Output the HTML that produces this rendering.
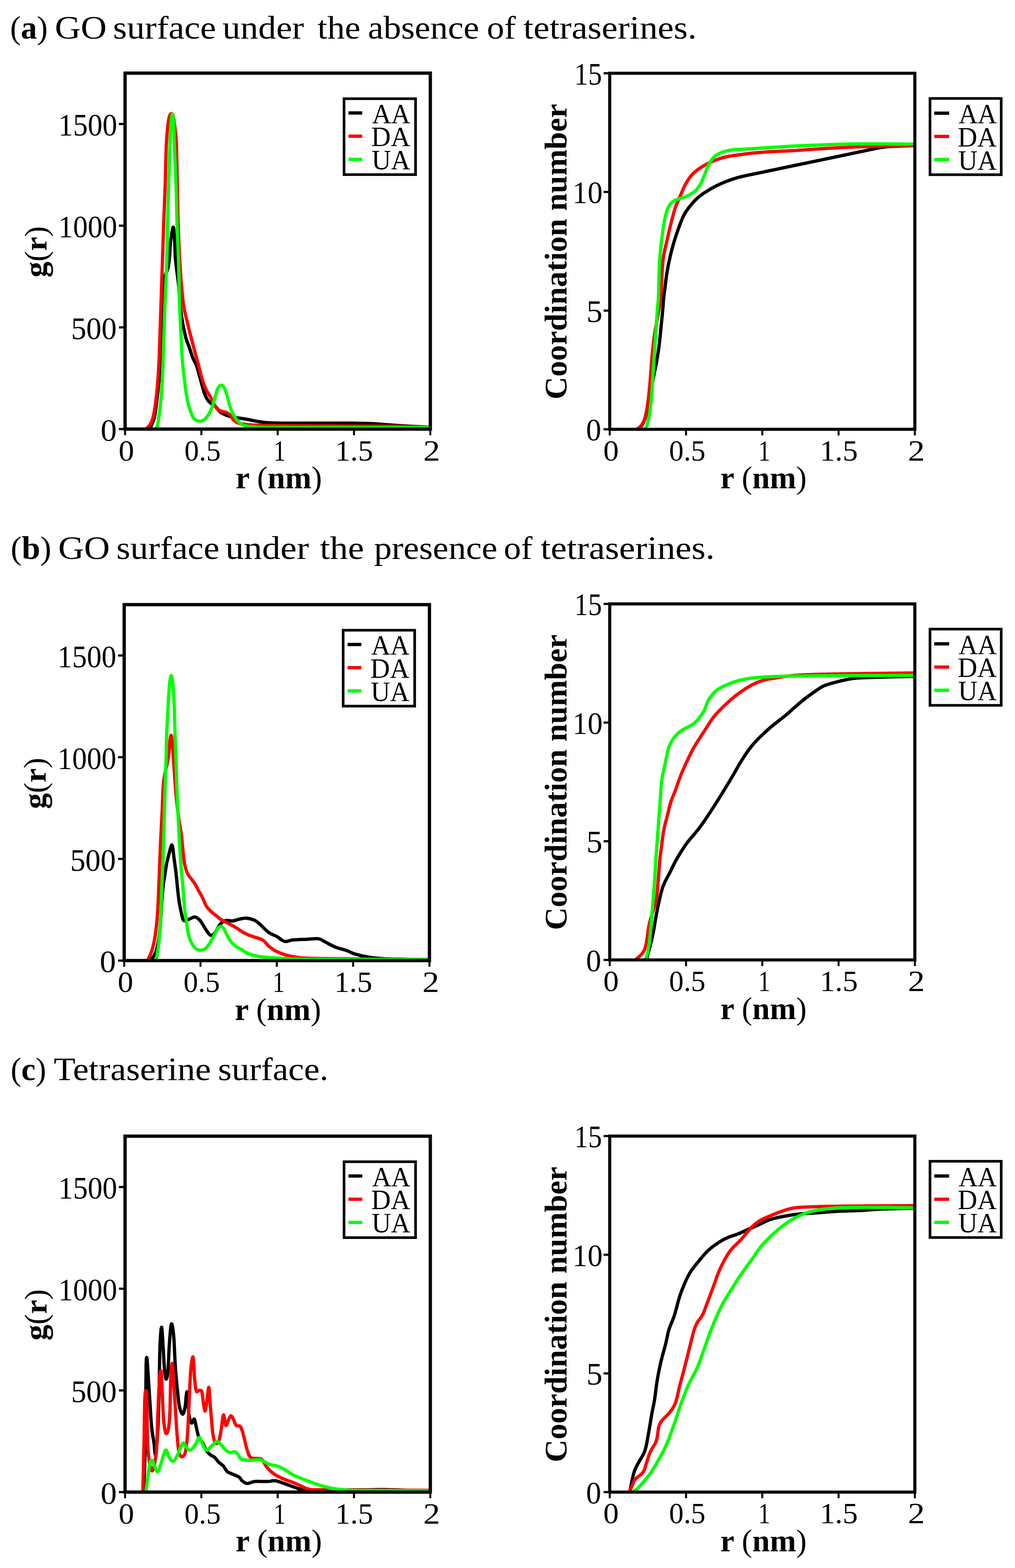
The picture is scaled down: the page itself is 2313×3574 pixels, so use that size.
<!DOCTYPE html><html><head><meta charset="utf-8"><title>RDF and coordination number</title>
<style>html,body{margin:0;padding:0;background:#fff;}body{width:2313px;height:3574px;overflow:hidden;}svg{display:block;}text{font-family:"Liberation Serif", "DejaVu Serif", serif;fill:#000;}</style></head><body>
<svg width="2313" height="3574" viewBox="0 0 2313 3574">
<rect width="2313" height="3574" fill="#fff"/>
<text x="23.02" y="88" font-size="74" textLength="85.88" lengthAdjust="spacingAndGlyphs">(<tspan font-weight="bold">a</tspan>)</text>
<text x="124.98" y="88" font-size="74" textLength="118.21" lengthAdjust="spacingAndGlyphs">GO</text>
<text x="257.5" y="88" font-size="74" textLength="234.78" lengthAdjust="spacingAndGlyphs">surface</text>
<text x="507.1" y="88" font-size="74" textLength="185.65" lengthAdjust="spacingAndGlyphs">under</text>
<text x="723.62" y="88" font-size="74" textLength="97.78" lengthAdjust="spacingAndGlyphs">the</text>
<text x="838.35" y="88" font-size="74" textLength="253.41" lengthAdjust="spacingAndGlyphs">absence</text>
<text x="1109.5" y="88" font-size="74" textLength="65.84" lengthAdjust="spacingAndGlyphs">of</text>
<text x="1192.79" y="88" font-size="74" textLength="395.16" lengthAdjust="spacingAndGlyphs">tetraserines.</text>
<text x="24.23" y="1274" font-size="74" textLength="92.73" lengthAdjust="spacingAndGlyphs">(<tspan font-weight="bold">b</tspan>)</text>
<text x="132.8" y="1274" font-size="74" textLength="117.47" lengthAdjust="spacingAndGlyphs">GO</text>
<text x="265.3" y="1274" font-size="74" textLength="234.68" lengthAdjust="spacingAndGlyphs">surface</text>
<text x="513.67" y="1274" font-size="74" textLength="190.39" lengthAdjust="spacingAndGlyphs">under</text>
<text x="728.99" y="1274" font-size="74" textLength="100.59" lengthAdjust="spacingAndGlyphs">the</text>
<text x="852.41" y="1274" font-size="74" textLength="280.96" lengthAdjust="spacingAndGlyphs">presence</text>
<text x="1148.12" y="1274" font-size="74" textLength="65.31" lengthAdjust="spacingAndGlyphs">of</text>
<text x="1231.98" y="1274" font-size="74" textLength="396.58" lengthAdjust="spacingAndGlyphs">tetraserines.</text>
<text x="24.14" y="2461.5" font-size="74" textLength="81.09" lengthAdjust="spacingAndGlyphs">(<tspan font-weight="bold">c</tspan>)</text>
<text x="122.41" y="2461.5" font-size="74" textLength="358.37" lengthAdjust="spacingAndGlyphs">Tetraserine</text>
<text x="496.75" y="2461.5" font-size="74" textLength="251.61" lengthAdjust="spacingAndGlyphs">surface.</text>
<g transform="translate(0,0)"><clipPath id="cga"><rect x="285" y="166.7" width="695.6" height="811.3"/></clipPath><g clip-path="url(#cga)"><path d="M338 977C339.17 975.83 342.6 974.67 345 970C347.4 965.33 350.17 960 352.4 949C354.63 938 356.8 917.17 358.4 904C360 890.83 361.13 879.88 362 870C362.87 860.12 362.97 856.37 363.6 844.7C364.23 833.03 365.15 811.62 365.8 800C366.45 788.38 366.97 783.33 367.5 775C368.03 766.67 368.42 762.5 369 750C369.58 737.5 370.33 716.67 371 700C371.67 683.33 372.17 661.67 373 650C373.83 638.33 374.33 636.67 376 630C377.67 623.33 381.33 616.67 383 610C384.67 603.33 385.17 598.33 386 590C386.83 581.67 387.17 569.17 388 560C388.83 550.83 389.83 542 391 535C392.17 528 393.83 516.07 395 518C396.17 519.93 397.25 535.35 398 546.6C398.75 557.85 398.83 574.93 399.5 585.5C400.17 596.07 400.75 599.25 402 610C403.25 620.75 405.5 635 407 650C408.5 665 409.5 685.83 411 700C412.5 714.17 414.5 725.83 416 735C417.5 744.17 418.5 748.33 420 755C421.5 761.67 423.07 768.77 425 775C426.93 781.23 429.27 785.77 431.6 792.4C433.93 799.03 436.27 807.83 439 814.8C441.73 821.77 445 825.73 448 834.2C451 842.67 454 855.13 457 865.6C460 876.07 463.27 889.28 466 897C468.73 904.72 470.93 908.18 473.4 911.9C475.87 915.62 477.82 916.82 480.8 919.3C483.78 921.78 487.82 923.55 491.3 926.8C494.78 930.05 497.97 935.68 501.7 938.8C505.43 941.92 509.97 943.77 513.7 945.5C517.43 947.23 519.88 948.08 524.1 949.2C528.32 950.32 533.02 951.2 539 952.2C544.98 953.2 548.17 953.32 560 955.2C571.83 957.08 586.67 961.95 610 963.5C633.33 965.05 667.83 964.33 700 964.5C732.17 964.67 778.5 964.33 803 964.5C827.5 964.67 832.33 964.8 847 965.5C861.67 966.2 876.38 967.68 891 968.7C905.62 969.72 922.53 970.88 934.7 971.6C946.87 972.32 956.45 972.6 964 973C971.55 973.4 977.33 973.83 980 974" fill="none" stroke="#000000" stroke-width="7.5" stroke-linejoin="round" stroke-linecap="round"/><path d="M334 977C334.7 976.23 336.38 974.78 338.2 972.4C340.02 970.02 342.78 967.82 344.9 962.7C347.02 957.58 349.15 950.17 350.9 941.7C352.65 933.23 354.03 923.1 355.4 911.9C356.77 900.7 357.98 888.2 359.1 874.5C360.22 860.8 361.28 845.45 362.1 829.7C362.92 813.95 363.18 803.28 364 780C364.82 756.72 366 720 367 690C368 660 369 630 370 600C371 570 371.92 540 373 510C374.08 480 375.5 450 376.5 420C377.5 390 377.98 352.5 379 330C380.02 307.5 381.35 296 382.6 285C383.85 274 385.1 268.33 386.5 264C387.9 259.67 389.58 258.67 391 259C392.42 259.33 393.67 260 395 266C396.33 272 397.83 284.33 399 295C400.17 305.67 401.17 309.17 402 330C402.83 350.83 403.33 390 404 420C404.67 450 405 480 406 510C407 540 408.08 570 410 600C411.92 630 414.67 667.5 417.5 690C420.33 712.5 423.75 720.83 427 735C430.25 749.17 434.25 764.18 437 775C439.75 785.82 440.92 790.28 443.5 799.9C446.08 809.52 449.52 821.52 452.5 832.7C455.48 843.88 458.42 857.53 461.4 867C464.38 876.47 467.42 883.27 470.4 889.5C473.38 895.73 476.57 899.43 479.3 904.4C482.03 909.37 484.3 914.82 486.8 919.3C489.3 923.78 491.32 928.3 494.3 931.3C497.28 934.3 500.72 935.68 504.7 937.3C508.68 938.92 514.72 939.27 518.2 941C521.68 942.73 523.12 944.83 525.6 947.7C528.08 950.57 530.37 955.48 533.1 958.2C535.83 960.92 538.42 962.62 542 964C545.58 965.38 549.1 965.72 554.6 966.5C560.1 967.28 560.43 968.08 575 968.7C589.57 969.32 589.33 969.72 642 970.2C694.67 970.68 839.83 971.13 891 971.6C942.17 972.07 934.17 972.6 949 973C963.83 973.4 974.83 973.83 980 974" fill="none" stroke="#ff0000" stroke-width="7.5" stroke-linejoin="round" stroke-linecap="round"/><path d="M357 976C357.48 974.02 358.68 971.05 359.9 964.1C361.12 957.15 362.95 945.48 364.3 934.3C365.65 923.12 366.88 911.93 368 897C369.12 882.07 370.12 865.87 371 844.7C371.88 823.53 372.47 795.78 373.3 770C374.13 744.22 374.88 718.33 376 690C377.12 661.67 379 630 380 600C381 570 381.25 540 382 510C382.75 480 383.6 450 384.5 420C385.4 390 386.57 352.5 387.4 330C388.23 307.5 388.6 296.67 389.5 285C390.4 273.33 391.72 260 392.8 260C393.88 260 395.27 273.33 396 285C396.73 296.67 396.37 307.5 397.2 330C398.03 352.5 399.95 390 401 420C402.05 450 402.5 480 403.5 510C404.5 540 406.08 570 407 600C407.92 630 408 660.83 409 690C410 719.17 411.98 754.2 413 775C414.02 795.8 414 800.7 415.1 814.8C416.2 828.9 417.85 844.67 419.6 859.6C421.35 874.53 423.37 891.95 425.6 904.4C427.83 916.85 430.27 926.08 433 934.3C435.73 942.52 438.75 949.47 442 953.7C445.25 957.93 449.02 958.95 452.5 959.7C455.98 960.45 459.42 960.2 462.9 958.2C466.38 956.2 469.92 952.93 473.4 947.7C476.88 942.47 480.82 934.52 483.8 926.8C486.78 919.08 489.05 908.62 491.3 901.4C493.55 894.18 494.93 887.4 497.3 883.5C499.67 879.6 503.02 877.5 505.5 878C507.98 878.5 510.08 882.1 512.2 886.5C514.32 890.9 516.22 897.68 518.2 904.4C520.18 911.12 521.87 920.08 524.1 926.8C526.33 933.52 528.6 939.22 531.6 944.7C534.6 950.18 538.37 955.72 542.1 959.7C545.83 963.68 549.52 966.55 554 968.6C558.48 970.65 561.33 971.1 569 972C576.67 972.9 578.17 973.58 600 974C621.83 974.42 636.67 974.42 700 974.5C763.33 974.58 933.33 974.5 980 974.5" fill="none" stroke="#00ff00" stroke-width="7.5" stroke-linejoin="round" stroke-linecap="round"/></g><line x1="271" y1="978" x2="285" y2="978" stroke="#000" stroke-width="5"/><text x="229.18" y="1004.8" font-size="71" textLength="36.92" lengthAdjust="spacingAndGlyphs">0</text><line x1="271" y1="746.2" x2="285" y2="746.2" stroke="#000" stroke-width="5"/><text x="161.89" y="773" font-size="71" textLength="104.05" lengthAdjust="spacingAndGlyphs">500</text><line x1="271" y1="514.4" x2="285" y2="514.4" stroke="#000" stroke-width="5"/><text x="133.05" y="541.2" font-size="71" textLength="133.78" lengthAdjust="spacingAndGlyphs">1000</text><line x1="271" y1="282.6" x2="285" y2="282.6" stroke="#000" stroke-width="5"/><text x="133.05" y="309.4" font-size="71" textLength="133.78" lengthAdjust="spacingAndGlyphs">1500</text><line x1="285" y1="978" x2="285" y2="992" stroke="#000" stroke-width="4.5"/><text x="270.19" y="1049.5" font-size="67" textLength="35.35" lengthAdjust="spacingAndGlyphs">0</text><line x1="458.9" y1="978" x2="458.9" y2="992" stroke="#000" stroke-width="4.5"/><text x="420.33" y="1049.5" font-size="67" textLength="82.69" lengthAdjust="spacingAndGlyphs">0.5</text><line x1="632.8" y1="978" x2="632.8" y2="992" stroke="#000" stroke-width="4.5"/><text x="623.62" y="1049.5" font-size="67" textLength="27.22" lengthAdjust="spacingAndGlyphs">1</text><line x1="806.7" y1="978" x2="806.7" y2="992" stroke="#000" stroke-width="4.5"/><text x="763.81" y="1049.5" font-size="67" textLength="86.43" lengthAdjust="spacingAndGlyphs">1.5</text><line x1="980.6" y1="978" x2="980.6" y2="992" stroke="#000" stroke-width="4.5"/><text x="964.56" y="1049.5" font-size="67" textLength="38.46" lengthAdjust="spacingAndGlyphs">2</text><rect x="285" y="166.7" width="695.6" height="811.3" fill="none" stroke="#000" stroke-width="7.5"/><rect x="784" y="225" width="163" height="173" fill="#fff" stroke="#000" stroke-width="6"/><line x1="794" y1="257.5" x2="825.5" y2="257.5" stroke="#000000" stroke-width="7.5"/><text x="848" y="280.5" font-size="63" textLength="87" lengthAdjust="spacingAndGlyphs">AA</text><line x1="794" y1="310.4" x2="825.5" y2="310.4" stroke="#ff0000" stroke-width="7.5"/><text x="846.04" y="333.4" font-size="63" textLength="88.96" lengthAdjust="spacingAndGlyphs">DA</text><line x1="794" y1="363.3" x2="825.5" y2="363.3" stroke="#00ff00" stroke-width="7.5"/><text x="847.03" y="386.3" font-size="63" textLength="87.97" lengthAdjust="spacingAndGlyphs">UA</text><text transform="translate(106,0) rotate(-90)" x="-632.52" y="0" font-size="72" font-weight="bold" textLength="116.88" lengthAdjust="spacingAndGlyphs">g<tspan font-weight="normal">(</tspan>r<tspan font-weight="normal">)</tspan></text><text x="536.97" y="1113" font-size="71" font-weight="bold" textLength="196.81" lengthAdjust="spacingAndGlyphs">r <tspan font-weight="normal">(</tspan>nm<tspan font-weight="normal">)</tspan></text></g>
<g transform="translate(0,0)"><clipPath id="cca"><rect x="1389.5" y="167" width="695.3" height="811.5"/></clipPath><g clip-path="url(#cca)"><path d="M1452 980 L1453.61 978.85 L1455.19 977.66 L1456.71 976.43 L1458.17 975.13 L1459.55 973.74 L1460.83 972.27 L1462.01 970.71 L1463.1 969.08 L1464.12 967.38 L1465.06 965.64 L1465.94 963.86 L1466.77 962.05 L1467.55 960.21 L1468.3 958.36 L1469.01 956.49 L1469.69 954.61 L1470.35 952.72 L1470.98 950.82 L1471.58 948.91 L1472.15 946.99 L1472.7 945.07 L1473.23 943.14 L1473.74 941.21 L1474.23 939.26 L1474.7 937.32 L1475.16 935.37 L1475.61 933.42 L1476.04 931.46 L1476.46 929.51 L1476.87 927.55 L1477.28 925.59 L1477.68 923.62 L1478.08 921.66 L1478.47 919.7 L1478.86 917.73 L1479.25 915.77 L1479.63 913.8 L1480.01 911.84 L1480.39 909.87 L1480.76 907.9 L1481.12 905.93 L1481.48 903.96 L1481.84 901.99 L1482.19 900.02 L1482.54 898.05 L1482.89 896.08 L1483.23 894.1 L1483.57 892.13 L1483.91 890.15 L1484.24 888.18 L1484.58 886.21 L1484.91 884.23 L1485.25 882.26 L1485.58 880.28 L1485.92 878.31 L1486.26 876.33 L1486.6 874.36 L1486.94 872.39 L1487.29 870.42 L1487.63 868.44 L1487.98 866.47 L1488.33 864.5 L1488.68 862.53 L1489.04 860.56 L1489.4 858.59 L1489.77 856.62 L1490.15 854.65 L1490.54 852.69 L1490.94 850.73 L1491.35 848.77 L1491.77 846.81 L1492.2 844.85 L1492.64 842.9 L1493.07 840.95 L1493.51 838.99 L1493.94 837.04 L1494.35 835.08 L1494.75 833.12 L1495.14 831.15 L1495.51 829.19 L1495.88 827.22 L1496.22 825.24 L1496.56 823.27 L1496.9 821.3 L1497.22 819.32 L1497.54 817.34 L1497.86 815.37 L1498.18 813.39 L1498.49 811.41 L1498.81 809.43 L1499.12 807.46 L1499.43 805.48 L1499.74 803.5 L1500.04 801.52 L1500.34 799.54 L1500.64 797.56 L1500.93 795.58 L1501.21 793.59 L1501.48 791.61 L1501.75 789.63 L1502 787.64 L1502.25 785.65 L1502.49 783.66 L1502.73 781.68 L1502.95 779.69 L1503.17 777.7 L1503.39 775.7 L1503.6 773.71 L1503.8 771.72 L1504.01 769.73 L1504.21 767.74 L1504.41 765.74 L1504.6 763.75 L1504.8 761.76 L1504.99 759.76 L1505.18 757.77 L1505.38 755.78 L1505.57 753.78 L1505.76 751.79 L1505.96 749.8 L1506.15 747.8 L1506.35 745.81 L1506.55 743.82 L1506.74 741.83 L1506.94 739.83 L1507.14 737.84 L1507.34 735.85 L1507.54 733.86 L1507.74 731.86 L1507.94 729.87 L1508.15 727.88 L1508.35 725.88 L1508.55 723.89 L1508.75 721.9 L1508.94 719.91 L1509.14 717.91 L1509.34 715.92 L1509.53 713.93 L1509.72 711.93 L1509.91 709.94 L1510.1 707.95 L1510.28 705.95 L1510.45 703.96 L1510.62 701.96 L1510.78 699.97 L1510.93 697.97 L1511.07 695.97 L1511.2 693.97 L1511.33 691.98 L1511.46 689.98 L1511.59 687.98 L1511.73 685.98 L1511.88 683.99 L1512.05 681.99 L1512.24 680 L1512.45 678.01 L1512.68 676.02 L1512.93 674.03 L1513.19 672.05 L1513.46 670.07 L1513.73 668.08 L1514.01 666.1 L1514.29 664.12 L1514.56 662.13 L1514.82 660.15 L1515.08 658.16 L1515.32 656.17 L1515.56 654.19 L1515.8 652.2 L1516.03 650.21 L1516.26 648.22 L1516.49 646.23 L1516.72 644.24 L1516.95 642.25 L1517.19 640.26 L1517.44 638.27 L1517.69 636.29 L1517.95 634.3 L1518.22 632.32 L1518.5 630.34 L1518.79 628.36 L1519.1 626.38 L1519.41 624.4 L1519.73 622.42 L1520.06 620.45 L1520.4 618.47 L1520.75 616.5 L1521.1 614.53 L1521.46 612.56 L1521.83 610.59 L1522.2 608.62 L1522.57 606.66 L1522.96 604.69 L1523.34 602.73 L1523.73 600.76 L1524.13 598.8 L1524.53 596.84 L1524.94 594.88 L1525.35 592.92 L1525.77 590.96 L1526.2 589 L1526.63 587.05 L1527.07 585.09 L1527.51 583.14 L1527.97 581.19 L1528.43 579.24 L1528.9 577.29 L1529.38 575.35 L1529.86 573.41 L1530.36 571.47 L1530.86 569.53 L1531.38 567.59 L1531.9 565.66 L1532.43 563.73 L1532.97 561.8 L1533.51 559.87 L1534.07 557.95 L1534.63 556.03 L1535.19 554.11 L1535.77 552.19 L1536.34 550.27 L1536.93 548.36 L1537.52 546.44 L1538.12 544.53 L1538.72 542.62 L1539.33 540.71 L1539.94 538.81 L1540.57 536.9 L1541.2 535 L1541.83 533.1 L1542.48 531.21 L1543.12 529.31 L1543.78 527.42 L1544.44 525.53 L1545.11 523.64 L1545.78 521.76 L1546.46 519.87 L1547.14 517.99 L1547.83 516.11 L1548.52 514.23 L1549.21 512.35 L1549.92 510.48 L1550.62 508.6 L1551.34 506.73 L1552.06 504.86 L1552.79 503 L1553.54 501.14 L1554.3 499.3 L1555.09 497.46 L1555.91 495.63 L1556.76 493.82 L1557.65 492.03 L1558.57 490.26 L1559.52 488.5 L1560.51 486.77 L1561.54 485.05 L1562.59 483.35 L1563.68 481.68 L1564.8 480.02 L1565.94 478.38 L1567.1 476.75 L1568.29 475.14 L1569.5 473.54 L1570.72 471.96 L1571.96 470.39 L1573.22 468.83 L1574.49 467.28 L1575.77 465.74 L1577.07 464.22 L1578.38 462.71 L1579.71 461.21 L1581.05 459.73 L1582.42 458.26 L1583.8 456.82 L1585.2 455.4 L1586.63 454 L1588.08 452.62 L1589.56 451.27 L1591.06 449.95 L1592.58 448.66 L1594.13 447.39 L1595.7 446.16 L1597.29 444.94 L1598.9 443.76 L1600.53 442.6 L1602.18 441.46 L1603.83 440.33 L1605.5 439.23 L1607.18 438.14 L1608.87 437.06 L1610.56 435.99 L1612.26 434.94 L1613.97 433.9 L1615.69 432.86 L1617.41 431.84 L1619.14 430.83 L1620.87 429.83 L1622.61 428.84 L1624.36 427.87 L1626.12 426.9 L1627.88 425.96 L1629.65 425.02 L1631.43 424.11 L1633.22 423.2 L1635.01 422.32 L1636.82 421.45 L1638.63 420.6 L1640.45 419.76 L1642.28 418.95 L1644.11 418.14 L1645.95 417.35 L1647.8 416.58 L1649.65 415.82 L1651.51 415.07 L1653.37 414.33 L1655.23 413.61 L1657.1 412.89 L1658.98 412.18 L1660.85 411.49 L1662.73 410.8 L1664.62 410.12 L1666.51 409.45 L1668.4 408.8 L1670.29 408.16 L1672.19 407.53 L1674.1 406.92 L1676.01 406.32 L1677.93 405.75 L1679.85 405.19 L1681.78 404.66 L1683.71 404.14 L1685.65 403.63 L1687.59 403.15 L1689.54 402.67 L1691.49 402.21 L1693.44 401.75 L1695.39 401.31 L1697.34 400.88 L1699.3 400.45 L1701.26 400.03 L1703.22 399.61 L1705.18 399.2 L1707.14 398.8 L1709.1 398.39 L1711.06 397.99 L1713.02 397.59 L1714.99 397.19 L1716.95 396.79 L1718.91 396.39 L1720.87 395.99 L1722.84 395.59 L1724.8 395.19 L1726.76 394.79 L1728.72 394.38 L1730.68 393.97 L1732.64 393.57 L1734.6 393.16 L1736.56 392.75 L1738.52 392.34 L1740.48 391.92 L1742.44 391.51 L1744.4 391.1 L1746.36 390.69 L1748.32 390.27 L1750.28 389.86 L1752.24 389.45 L1754.2 389.03 L1756.16 388.62 L1758.12 388.21 L1760.08 387.79 L1762.04 387.38 L1764 386.97 L1765.96 386.56 L1767.92 386.14 L1769.88 385.73 L1771.84 385.32 L1773.8 384.9 L1775.76 384.49 L1777.72 384.08 L1779.68 383.67 L1781.64 383.26 L1783.6 382.84 L1785.56 382.43 L1787.52 382.02 L1789.48 381.61 L1791.44 381.2 L1793.4 380.79 L1795.36 380.38 L1797.32 379.97 L1799.28 379.56 L1801.24 379.15 L1803.2 378.74 L1805.16 378.33 L1807.12 377.93 L1809.08 377.52 L1811.04 377.11 L1813 376.7 L1814.96 376.29 L1816.92 375.88 L1818.88 375.48 L1820.84 375.07 L1822.8 374.66 L1824.76 374.25 L1826.72 373.84 L1828.68 373.44 L1830.65 373.03 L1832.61 372.62 L1834.57 372.21 L1836.53 371.8 L1838.49 371.4 L1840.45 370.99 L1842.41 370.58 L1844.37 370.17 L1846.33 369.76 L1848.29 369.36 L1850.25 368.95 L1852.21 368.54 L1854.17 368.13 L1856.13 367.72 L1858.09 367.31 L1860.06 366.91 L1862.02 366.5 L1863.98 366.09 L1865.94 365.68 L1867.9 365.27 L1869.86 364.87 L1871.82 364.46 L1873.78 364.05 L1875.74 363.64 L1877.7 363.23 L1879.66 362.83 L1881.62 362.42 L1883.58 362.01 L1885.54 361.6 L1887.5 361.19 L1889.46 360.78 L1891.43 360.38 L1893.39 359.97 L1895.35 359.56 L1897.31 359.15 L1899.27 358.74 L1901.23 358.33 L1903.19 357.92 L1905.15 357.51 L1907.11 357.1 L1909.07 356.69 L1911.03 356.28 L1912.99 355.87 L1914.95 355.46 L1916.91 355.05 L1918.87 354.64 L1920.83 354.22 L1922.79 353.81 L1924.75 353.4 L1926.71 352.98 L1928.67 352.57 L1930.63 352.16 L1932.59 351.74 L1934.54 351.33 L1936.5 350.91 L1938.46 350.5 L1940.42 350.09 L1942.38 349.68 L1944.34 349.26 L1946.3 348.85 L1948.26 348.44 L1950.22 348.03 L1952.18 347.62 L1954.14 347.21 L1956.1 346.81 L1958.06 346.4 L1960.03 345.99 L1961.98 345.57 L1963.94 345.16 L1965.9 344.74 L1967.86 344.33 L1969.82 343.91 L1971.78 343.49 L1973.74 343.06 L1975.69 342.64 L1977.65 342.22 L1979.61 341.8 L1981.57 341.37 L1983.52 340.95 L1985.48 340.54 L1987.44 340.12 L1989.4 339.71 L1991.36 339.31 L1993.33 338.91 L1995.29 338.51 L1997.25 338.13 L1999.22 337.75 L2001.19 337.38 L2003.16 337.03 L2005.13 336.68 L2007.11 336.35 L2009.08 336.04 L2011.06 335.74 L2013.04 335.46 L2015.03 335.2 L2017.02 334.96 L2019.01 334.74 L2021 334.54 L2022.99 334.36 L2024.99 334.19 L2026.98 334.05 L2028.98 333.92 L2030.98 333.8 L2032.98 333.7 L2034.98 333.61 L2036.98 333.52 L2038.98 333.44 L2040.98 333.36 L2042.98 333.28 L2044.98 333.2 L2046.98 333.11 L2048.98 333.03 L2050.99 332.94 L2052.99 332.85 L2054.99 332.75 L2056.99 332.66 L2058.99 332.57 L2060.99 332.48 L2062.99 332.39 L2064.99 332.3 L2066.99 332.22 L2068.99 332.14 L2070.99 332.05 L2072.99 331.97 L2074.99 331.89 L2077 331.82 L2079 331.74 L2081 331.66 L2083 331.58 L2085 331.5" fill="none" stroke="#000000" stroke-width="7.5" stroke-linejoin="round" stroke-linecap="round"/><path d="M1445 980 L1446.87 979.43 L1448.71 978.82 L1450.51 978.12 L1452.26 977.31 L1453.94 976.37 L1455.54 975.29 L1457.06 974.09 L1458.5 972.78 L1459.85 971.37 L1461.13 969.88 L1462.32 968.32 L1463.43 966.69 L1464.47 965 L1465.42 963.27 L1466.3 961.49 L1467.11 959.68 L1467.85 957.84 L1468.53 955.97 L1469.17 954.08 L1469.75 952.18 L1470.3 950.26 L1470.81 948.33 L1471.29 946.39 L1471.75 944.44 L1472.18 942.49 L1472.59 940.53 L1472.98 938.57 L1473.35 936.61 L1473.71 934.64 L1474.05 932.67 L1474.38 930.7 L1474.7 928.73 L1475.01 926.75 L1475.31 924.77 L1475.6 922.79 L1475.89 920.81 L1476.17 918.83 L1476.44 916.85 L1476.7 914.87 L1476.96 912.89 L1477.22 910.9 L1477.47 908.92 L1477.71 906.93 L1477.95 904.95 L1478.19 902.96 L1478.41 900.98 L1478.63 898.99 L1478.85 897 L1479.06 895.01 L1479.27 893.02 L1479.47 891.03 L1479.67 889.04 L1479.86 887.05 L1480.06 885.06 L1480.24 883.07 L1480.43 881.08 L1480.61 879.09 L1480.79 877.09 L1480.97 875.1 L1481.14 873.11 L1481.32 871.12 L1481.49 869.12 L1481.65 867.13 L1481.82 865.14 L1481.98 863.14 L1482.13 861.15 L1482.29 859.16 L1482.44 857.16 L1482.58 855.17 L1482.73 853.17 L1482.87 851.18 L1483.01 849.18 L1483.15 847.19 L1483.29 845.19 L1483.42 843.19 L1483.56 841.2 L1483.7 839.2 L1483.84 837.21 L1483.99 835.21 L1484.13 833.22 L1484.28 831.22 L1484.43 829.23 L1484.58 827.24 L1484.73 825.24 L1484.89 823.25 L1485.06 821.25 L1485.23 819.26 L1485.4 817.27 L1485.58 815.28 L1485.76 813.29 L1485.95 811.29 L1486.14 809.3 L1486.34 807.31 L1486.54 805.32 L1486.75 803.33 L1486.95 801.34 L1487.16 799.36 L1487.38 797.37 L1487.6 795.38 L1487.82 793.39 L1488.04 791.4 L1488.27 789.42 L1488.5 787.43 L1488.73 785.44 L1488.97 783.46 L1489.2 781.47 L1489.45 779.49 L1489.69 777.5 L1489.94 775.52 L1490.19 773.53 L1490.45 771.55 L1490.71 769.57 L1490.98 767.58 L1491.25 765.6 L1491.52 763.62 L1491.8 761.64 L1492.09 759.66 L1492.38 757.68 L1492.68 755.71 L1492.99 753.73 L1493.31 751.75 L1493.63 749.78 L1493.96 747.81 L1494.3 745.84 L1494.64 743.87 L1494.99 741.9 L1495.35 739.93 L1495.71 737.96 L1496.07 736 L1496.43 734.03 L1496.79 732.06 L1497.16 730.09 L1497.52 728.13 L1497.88 726.16 L1498.24 724.19 L1498.59 722.22 L1498.94 720.26 L1499.29 718.29 L1499.64 716.32 L1499.99 714.35 L1500.34 712.38 L1500.68 710.41 L1501.02 708.44 L1501.36 706.47 L1501.7 704.49 L1502.03 702.52 L1502.36 700.55 L1502.68 698.57 L1502.99 696.6 L1503.29 694.62 L1503.58 692.64 L1503.86 690.66 L1504.13 688.68 L1504.4 686.7 L1504.65 684.72 L1504.9 682.73 L1505.13 680.74 L1505.35 678.76 L1505.57 676.77 L1505.77 674.78 L1505.96 672.79 L1506.14 670.8 L1506.31 668.8 L1506.47 666.81 L1506.62 664.82 L1506.77 662.82 L1506.9 660.83 L1507.03 658.83 L1507.15 656.84 L1507.27 654.84 L1507.38 652.84 L1507.48 650.84 L1507.58 648.85 L1507.67 646.85 L1507.76 644.85 L1507.84 642.85 L1507.93 640.85 L1508.01 638.86 L1508.09 636.86 L1508.17 634.86 L1508.25 632.86 L1508.34 630.86 L1508.42 628.86 L1508.51 626.87 L1508.6 624.87 L1508.69 622.87 L1508.78 620.87 L1508.88 618.87 L1508.98 616.88 L1509.09 614.88 L1509.21 612.88 L1509.33 610.89 L1509.46 608.89 L1509.59 606.9 L1509.74 604.9 L1509.9 602.91 L1510.07 600.92 L1510.25 598.92 L1510.45 596.93 L1510.67 594.95 L1510.9 592.96 L1511.15 590.98 L1511.42 589 L1511.71 587.02 L1512.02 585.04 L1512.35 583.07 L1512.69 581.1 L1513.05 579.14 L1513.43 577.17 L1513.82 575.21 L1514.23 573.25 L1514.65 571.3 L1515.08 569.35 L1515.52 567.4 L1515.97 565.45 L1516.42 563.5 L1516.87 561.55 L1517.32 559.6 L1517.77 557.65 L1518.22 555.7 L1518.67 553.75 L1519.11 551.8 L1519.55 549.85 L1519.98 547.9 L1520.42 545.95 L1520.86 544 L1521.29 542.04 L1521.73 540.09 L1522.17 538.14 L1522.61 536.19 L1523.05 534.24 L1523.5 532.29 L1523.95 530.34 L1524.4 528.39 L1524.86 526.45 L1525.32 524.5 L1525.78 522.55 L1526.24 520.61 L1526.71 518.66 L1527.18 516.72 L1527.66 514.78 L1528.13 512.83 L1528.61 510.89 L1529.1 508.95 L1529.59 507.01 L1530.08 505.07 L1530.58 503.14 L1531.07 501.2 L1531.57 499.26 L1532.08 497.33 L1532.59 495.39 L1533.1 493.46 L1533.62 491.53 L1534.14 489.6 L1534.67 487.67 L1535.2 485.74 L1535.75 483.82 L1536.3 481.89 L1536.86 479.98 L1537.43 478.06 L1538.03 476.15 L1538.63 474.25 L1539.27 472.35 L1539.92 470.46 L1540.61 468.59 L1541.33 466.73 L1542.08 464.88 L1542.87 463.05 L1543.68 461.22 L1544.52 459.41 L1545.37 457.6 L1546.22 455.79 L1547.07 453.98 L1547.91 452.17 L1548.73 450.35 L1549.53 448.52 L1550.31 446.68 L1551.07 444.83 L1551.83 442.98 L1552.57 441.12 L1553.32 439.27 L1554.07 437.41 L1554.82 435.56 L1555.59 433.72 L1556.38 431.88 L1557.19 430.05 L1558.02 428.23 L1558.87 426.43 L1559.75 424.63 L1560.65 422.85 L1561.58 421.08 L1562.53 419.32 L1563.5 417.57 L1564.49 415.84 L1565.51 414.12 L1566.55 412.42 L1567.62 410.73 L1568.72 409.06 L1569.84 407.41 L1571 405.79 L1572.19 404.19 L1573.42 402.61 L1574.69 401.07 L1575.99 399.56 L1577.33 398.09 L1578.7 396.64 L1580.11 395.23 L1581.55 393.85 L1583.02 392.51 L1584.52 391.19 L1586.05 389.9 L1587.6 388.65 L1589.18 387.42 L1590.77 386.22 L1592.39 385.05 L1594.03 383.91 L1595.68 382.79 L1597.36 381.69 L1599.04 380.62 L1600.74 379.57 L1602.46 378.54 L1604.18 377.53 L1605.92 376.54 L1607.66 375.57 L1609.42 374.62 L1611.19 373.69 L1612.97 372.78 L1614.76 371.89 L1616.55 371.01 L1618.36 370.15 L1620.17 369.3 L1621.99 368.47 L1623.82 367.66 L1625.65 366.87 L1627.49 366.1 L1629.35 365.35 L1631.21 364.62 L1633.08 363.92 L1634.96 363.25 L1636.85 362.6 L1638.75 361.97 L1640.65 361.37 L1642.57 360.78 L1644.48 360.22 L1646.4 359.67 L1648.33 359.14 L1650.27 358.64 L1652.21 358.15 L1654.15 357.69 L1656.1 357.26 L1658.06 356.84 L1660.02 356.45 L1661.98 356.09 L1663.95 355.74 L1665.92 355.41 L1667.9 355.1 L1669.87 354.8 L1671.85 354.51 L1673.83 354.23 L1675.81 353.96 L1677.8 353.69 L1679.78 353.43 L1681.76 353.17 L1683.75 352.91 L1685.73 352.65 L1687.71 352.39 L1689.69 352.12 L1691.68 351.86 L1693.66 351.59 L1695.64 351.33 L1697.62 351.06 L1699.61 350.8 L1701.59 350.54 L1703.57 350.29 L1705.56 350.04 L1707.54 349.79 L1709.53 349.56 L1711.52 349.33 L1713.5 349.12 L1715.49 348.91 L1717.48 348.71 L1719.47 348.52 L1721.47 348.33 L1723.46 348.15 L1725.45 347.98 L1727.44 347.81 L1729.44 347.64 L1731.43 347.48 L1733.42 347.32 L1735.42 347.17 L1737.41 347.02 L1739.41 346.87 L1741.4 346.73 L1743.4 346.58 L1745.39 346.45 L1747.39 346.31 L1749.38 346.18 L1751.38 346.05 L1753.37 345.92 L1755.37 345.8 L1757.37 345.68 L1759.36 345.56 L1761.36 345.46 L1763.36 345.35 L1765.36 345.25 L1767.35 345.16 L1769.35 345.07 L1771.35 344.99 L1773.35 344.91 L1775.35 344.84 L1777.35 344.76 L1779.35 344.69 L1781.34 344.62 L1783.34 344.54 L1785.34 344.47 L1787.34 344.39 L1789.34 344.31 L1791.34 344.22 L1793.33 344.13 L1795.33 344.03 L1797.33 343.94 L1799.33 343.83 L1801.32 343.72 L1803.32 343.61 L1805.32 343.5 L1807.31 343.38 L1809.31 343.26 L1811.31 343.13 L1813.3 343 L1815.3 342.87 L1817.29 342.74 L1819.29 342.61 L1821.29 342.48 L1823.28 342.34 L1825.28 342.2 L1827.27 342.06 L1829.27 341.93 L1831.26 341.79 L1833.26 341.65 L1835.25 341.51 L1837.25 341.37 L1839.24 341.23 L1841.24 341.09 L1843.23 340.95 L1845.23 340.81 L1847.22 340.67 L1849.22 340.53 L1851.22 340.39 L1853.21 340.26 L1855.21 340.12 L1857.2 339.98 L1859.2 339.85 L1861.19 339.71 L1863.19 339.58 L1865.18 339.45 L1867.18 339.32 L1869.18 339.19 L1871.17 339.06 L1873.17 338.93 L1875.16 338.81 L1877.16 338.69 L1879.16 338.57 L1881.15 338.45 L1883.15 338.33 L1885.15 338.21 L1887.14 338.1 L1889.14 337.98 L1891.14 337.87 L1893.13 337.76 L1895.13 337.65 L1897.13 337.54 L1899.13 337.43 L1901.12 337.32 L1903.12 337.21 L1905.12 337.1 L1907.11 337 L1909.11 336.89 L1911.11 336.79 L1913.11 336.68 L1915.1 336.58 L1917.1 336.48 L1919.1 336.38 L1921.1 336.27 L1923.09 336.17 L1925.09 336.07 L1927.09 335.98 L1929.09 335.88 L1931.08 335.78 L1933.08 335.69 L1935.08 335.59 L1937.08 335.5 L1939.08 335.4 L1941.07 335.31 L1943.07 335.22 L1945.07 335.13 L1947.07 335.04 L1949.07 334.95 L1951.06 334.87 L1953.06 334.78 L1955.06 334.7 L1957.06 334.62 L1959.06 334.54 L1961.06 334.46 L1963.06 334.39 L1965.05 334.32 L1967.05 334.25 L1969.05 334.19 L1971.05 334.13 L1973.05 334.07 L1975.05 334.02 L1977.05 333.97 L1979.05 333.92 L1981.05 333.87 L1983.05 333.83 L1985.05 333.79 L1987.05 333.75 L1989.05 333.72 L1991.05 333.68 L1993.05 333.64 L1995.05 333.6 L1997.05 333.56 L1999.05 333.52 L2001.05 333.47 L2003.04 333.42 L2005.04 333.37 L2007.04 333.32 L2009.04 333.27 L2011.04 333.21 L2013.04 333.15 L2015.04 333.09 L2017.04 333.02 L2019.04 332.96 L2021.04 332.89 L2023.04 332.83 L2025.04 332.76 L2027.03 332.69 L2029.03 332.62 L2031.03 332.55 L2033.03 332.48 L2035.03 332.41 L2037.03 332.34 L2039.03 332.27 L2041.03 332.2 L2043.03 332.13 L2045.02 332.06 L2047.02 331.98 L2049.02 331.91 L2051.02 331.84 L2053.02 331.77 L2055.02 331.69 L2057.02 331.62 L2059.02 331.55 L2061.01 331.48 L2063.01 331.4 L2065.01 331.33 L2067.01 331.26 L2069.01 331.18 L2071.01 331.11 L2073.01 331.04 L2075.01 330.96 L2077 330.89 L2079 330.82 L2081 330.75 L2083 330.67 L2085 330.6" fill="none" stroke="#ff0000" stroke-width="7.5" stroke-linejoin="round" stroke-linecap="round"/><path d="M1466 980 L1467.41 979.11 L1468.77 978.14 L1470.04 977.04 L1471.17 975.76 L1472.17 974.31 L1473.03 972.71 L1473.79 970.99 L1474.46 969.18 L1475.05 967.31 L1475.59 965.41 L1476.1 963.48 L1476.57 961.54 L1477.02 959.59 L1477.45 957.64 L1477.86 955.68 L1478.26 953.72 L1478.63 951.76 L1479 949.79 L1479.34 947.82 L1479.68 945.85 L1480 943.87 L1480.32 941.9 L1480.62 939.92 L1480.92 937.94 L1481.2 935.96 L1481.48 933.98 L1481.75 932 L1482.01 930.01 L1482.27 928.03 L1482.52 926.04 L1482.77 924.06 L1483.01 922.07 L1483.24 920.09 L1483.47 918.1 L1483.69 916.11 L1483.9 914.12 L1484.11 912.13 L1484.31 910.14 L1484.5 908.15 L1484.69 906.16 L1484.86 904.16 L1485.03 902.17 L1485.19 900.17 L1485.34 898.18 L1485.48 896.18 L1485.62 894.19 L1485.75 892.19 L1485.88 890.19 L1486 888.2 L1486.12 886.2 L1486.24 884.2 L1486.36 882.21 L1486.47 880.21 L1486.59 878.21 L1486.71 876.21 L1486.83 874.22 L1486.95 872.22 L1487.07 870.22 L1487.2 868.22 L1487.32 866.23 L1487.45 864.23 L1487.58 862.23 L1487.71 860.24 L1487.84 858.24 L1487.97 856.24 L1488.09 854.25 L1488.22 852.25 L1488.35 850.25 L1488.48 848.26 L1488.61 846.26 L1488.74 844.26 L1488.87 842.27 L1489 840.27 L1489.13 838.27 L1489.26 836.28 L1489.39 834.28 L1489.52 832.28 L1489.65 830.29 L1489.78 828.29 L1489.91 826.29 L1490.04 824.3 L1490.17 822.3 L1490.31 820.3 L1490.44 818.31 L1490.57 816.31 L1490.71 814.31 L1490.84 812.32 L1490.98 810.32 L1491.11 808.33 L1491.25 806.33 L1491.38 804.33 L1491.51 802.34 L1491.65 800.34 L1491.78 798.34 L1491.92 796.35 L1492.05 794.35 L1492.19 792.35 L1492.32 790.36 L1492.46 788.36 L1492.59 786.37 L1492.73 784.37 L1492.86 782.37 L1493 780.38 L1493.13 778.38 L1493.27 776.38 L1493.4 774.39 L1493.54 772.39 L1493.67 770.39 L1493.8 768.4 L1493.94 766.4 L1494.07 764.41 L1494.21 762.41 L1494.34 760.41 L1494.48 758.42 L1494.61 756.42 L1494.74 754.42 L1494.88 752.43 L1495.01 750.43 L1495.15 748.43 L1495.28 746.44 L1495.41 744.44 L1495.55 742.45 L1495.68 740.45 L1495.81 738.45 L1495.95 736.46 L1496.08 734.46 L1496.21 732.46 L1496.34 730.47 L1496.47 728.47 L1496.6 726.47 L1496.73 724.48 L1496.87 722.48 L1497 720.48 L1497.13 718.49 L1497.26 716.49 L1497.4 714.49 L1497.54 712.5 L1497.68 710.5 L1497.82 708.51 L1497.98 706.51 L1498.14 704.52 L1498.31 702.53 L1498.5 700.53 L1498.69 698.54 L1498.89 696.55 L1499.1 694.57 L1499.3 692.58 L1499.5 690.59 L1499.67 688.6 L1499.84 686.6 L1499.98 684.61 L1500.11 682.61 L1500.22 680.62 L1500.32 678.62 L1500.41 676.62 L1500.49 674.62 L1500.56 672.62 L1500.63 670.62 L1500.7 668.62 L1500.76 666.62 L1500.82 664.62 L1500.88 662.62 L1500.94 660.62 L1501 658.62 L1501.05 656.62 L1501.11 654.62 L1501.16 652.62 L1501.21 650.62 L1501.27 648.62 L1501.32 646.62 L1501.37 644.62 L1501.43 642.62 L1501.48 640.62 L1501.54 638.62 L1501.59 636.62 L1501.65 634.62 L1501.71 632.62 L1501.77 630.62 L1501.83 628.62 L1501.89 626.62 L1501.95 624.62 L1502.02 622.62 L1502.08 620.62 L1502.15 618.62 L1502.22 616.62 L1502.29 614.62 L1502.37 612.62 L1502.45 610.62 L1502.53 608.62 L1502.62 606.62 L1502.71 604.63 L1502.8 602.63 L1502.9 600.63 L1503.01 598.63 L1503.12 596.63 L1503.24 594.64 L1503.36 592.64 L1503.49 590.64 L1503.63 588.65 L1503.77 586.65 L1503.92 584.65 L1504.08 582.66 L1504.24 580.67 L1504.4 578.67 L1504.58 576.68 L1504.75 574.69 L1504.94 572.69 L1505.13 570.7 L1505.32 568.71 L1505.52 566.72 L1505.73 564.73 L1505.94 562.74 L1506.15 560.75 L1506.37 558.76 L1506.59 556.77 L1506.82 554.78 L1507.05 552.8 L1507.28 550.81 L1507.52 548.82 L1507.76 546.84 L1508 544.85 L1508.24 542.86 L1508.49 540.88 L1508.73 538.89 L1508.98 536.91 L1509.23 534.92 L1509.49 532.94 L1509.74 530.95 L1510 528.97 L1510.27 526.99 L1510.54 525 L1510.82 523.02 L1511.1 521.04 L1511.4 519.06 L1511.7 517.09 L1512.02 515.11 L1512.35 513.14 L1512.69 511.17 L1513.04 509.2 L1513.4 507.23 L1513.78 505.27 L1514.18 503.3 L1514.58 501.34 L1515 499.39 L1515.43 497.43 L1515.87 495.48 L1516.32 493.53 L1516.79 491.59 L1517.27 489.65 L1517.76 487.71 L1518.28 485.78 L1518.82 483.86 L1519.4 481.94 L1520 480.04 L1520.65 478.15 L1521.34 476.29 L1522.09 474.45 L1522.91 472.64 L1523.8 470.88 L1524.77 469.16 L1525.83 467.5 L1526.98 465.91 L1528.22 464.39 L1529.55 462.95 L1530.97 461.6 L1532.47 460.33 L1534.04 459.15 L1535.68 458.07 L1537.38 457.09 L1539.13 456.21 L1540.93 455.41 L1542.78 454.7 L1544.65 454.06 L1546.54 453.46 L1548.45 452.9 L1550.37 452.34 L1552.28 451.77 L1554.19 451.19 L1556.1 450.58 L1557.99 449.94 L1559.87 449.28 L1561.74 448.57 L1563.59 447.83 L1565.43 447.05 L1567.24 446.22 L1569.04 445.35 L1570.81 444.44 L1572.56 443.49 L1574.29 442.49 L1575.99 441.45 L1577.66 440.36 L1579.29 439.22 L1580.89 438.03 L1582.44 436.79 L1583.95 435.5 L1585.41 434.15 L1586.82 432.75 L1588.18 431.3 L1589.49 429.81 L1590.74 428.26 L1591.94 426.68 L1593.09 425.05 L1594.18 423.39 L1595.23 421.7 L1596.22 419.97 L1597.16 418.21 L1598.06 416.43 L1598.91 414.63 L1599.73 412.81 L1600.53 410.98 L1601.3 409.13 L1602.05 407.28 L1602.79 405.42 L1603.52 403.56 L1604.25 401.69 L1604.97 399.83 L1605.69 397.96 L1606.4 396.09 L1607.11 394.22 L1607.82 392.35 L1608.54 390.48 L1609.27 388.62 L1610.01 386.77 L1610.78 384.92 L1611.56 383.08 L1612.36 381.25 L1613.19 379.43 L1614.03 377.62 L1614.91 375.82 L1615.8 374.03 L1616.73 372.26 L1617.68 370.51 L1618.67 368.78 L1619.71 367.08 L1620.8 365.41 L1621.94 363.79 L1623.14 362.21 L1624.41 360.7 L1625.75 359.24 L1627.15 357.85 L1628.62 356.53 L1630.16 355.28 L1631.75 354.1 L1633.39 352.99 L1635.08 351.95 L1636.8 350.97 L1638.56 350.04 L1640.35 349.17 L1642.17 348.36 L1644.01 347.6 L1645.88 346.88 L1647.76 346.22 L1649.65 345.61 L1651.57 345.04 L1653.49 344.52 L1655.43 344.04 L1657.38 343.61 L1659.33 343.21 L1661.3 342.84 L1663.27 342.51 L1665.24 342.2 L1667.22 341.92 L1669.2 341.66 L1671.19 341.43 L1673.18 341.23 L1675.17 341.06 L1677.16 340.91 L1679.16 340.78 L1681.15 340.67 L1683.15 340.58 L1685.15 340.49 L1687.15 340.39 L1689.14 340.3 L1691.14 340.2 L1693.14 340.09 L1695.14 339.98 L1697.13 339.87 L1699.13 339.75 L1701.13 339.63 L1703.13 339.51 L1705.12 339.38 L1707.12 339.26 L1709.12 339.14 L1711.11 339.01 L1713.11 338.89 L1715.11 338.76 L1717.11 338.64 L1719.1 338.51 L1721.1 338.39 L1723.1 338.26 L1725.09 338.14 L1727.09 338.01 L1729.09 337.89 L1731.08 337.76 L1733.08 337.64 L1735.08 337.51 L1737.08 337.38 L1739.07 337.26 L1741.07 337.13 L1743.07 337.01 L1745.06 336.88 L1747.06 336.76 L1749.06 336.63 L1751.05 336.5 L1753.05 336.37 L1755.05 336.24 L1757.04 336.11 L1759.04 335.98 L1761.04 335.85 L1763.03 335.71 L1765.03 335.58 L1767.03 335.45 L1769.02 335.31 L1771.02 335.18 L1773.02 335.05 L1775.01 334.92 L1777.01 334.79 L1779.01 334.66 L1781 334.53 L1783 334.4 L1785 334.28 L1786.99 334.16 L1788.99 334.04 L1790.99 333.92 L1792.99 333.8 L1794.98 333.69 L1796.98 333.58 L1798.98 333.47 L1800.98 333.36 L1802.98 333.26 L1804.97 333.15 L1806.97 333.05 L1808.97 332.95 L1810.97 332.85 L1812.97 332.75 L1814.97 332.66 L1816.96 332.56 L1818.96 332.47 L1820.96 332.37 L1822.96 332.28 L1824.96 332.19 L1826.96 332.1 L1828.96 332 L1830.96 331.91 L1832.95 331.83 L1834.95 331.74 L1836.95 331.65 L1838.95 331.56 L1840.95 331.48 L1842.95 331.39 L1844.95 331.31 L1846.95 331.22 L1848.95 331.14 L1850.95 331.06 L1852.95 330.98 L1854.94 330.9 L1856.94 330.82 L1858.94 330.74 L1860.94 330.66 L1862.94 330.58 L1864.94 330.51 L1866.94 330.43 L1868.94 330.36 L1870.94 330.28 L1872.94 330.21 L1874.94 330.14 L1876.94 330.07 L1878.94 330 L1880.94 329.93 L1882.94 329.86 L1884.94 329.79 L1886.94 329.73 L1888.94 329.66 L1890.94 329.59 L1892.94 329.52 L1894.94 329.45 L1896.94 329.38 L1898.94 329.31 L1900.94 329.25 L1902.93 329.18 L1904.93 329.11 L1906.93 329.05 L1908.93 328.99 L1910.93 328.92 L1912.93 328.86 L1914.93 328.8 L1916.93 328.75 L1918.93 328.69 L1920.93 328.64 L1922.93 328.59 L1924.94 328.54 L1926.94 328.49 L1928.94 328.44 L1930.94 328.4 L1932.94 328.36 L1934.94 328.32 L1936.94 328.28 L1938.94 328.25 L1940.94 328.22 L1942.94 328.19 L1944.94 328.16 L1946.94 328.13 L1948.94 328.11 L1950.94 328.09 L1952.94 328.07 L1954.94 328.05 L1956.94 328.03 L1958.95 328.02 L1960.95 328 L1962.95 327.99 L1964.95 327.98 L1966.95 327.97 L1968.95 327.97 L1970.95 327.96 L1972.95 327.96 L1974.95 327.96 L1976.95 327.95 L1978.95 327.95 L1980.96 327.96 L1982.96 327.96 L1984.96 327.96 L1986.96 327.96 L1988.96 327.97 L1990.96 327.97 L1992.96 327.98 L1994.96 327.98 L1996.96 327.99 L1998.96 328 L2000.96 328 L2002.96 328.01 L2004.97 328.02 L2006.97 328.03 L2008.97 328.04 L2010.97 328.05 L2012.97 328.06 L2014.97 328.07 L2016.97 328.08 L2018.97 328.09 L2020.97 328.1 L2022.97 328.11 L2024.97 328.12 L2026.98 328.13 L2028.98 328.14 L2030.98 328.15 L2032.98 328.17 L2034.98 328.18 L2036.98 328.19 L2038.98 328.2 L2040.98 328.22 L2042.98 328.23 L2044.98 328.24 L2046.98 328.26 L2048.98 328.27 L2050.99 328.28 L2052.99 328.3 L2054.99 328.31 L2056.99 328.32 L2058.99 328.34 L2060.99 328.35 L2062.99 328.36 L2064.99 328.38 L2066.99 328.39 L2068.99 328.4 L2070.99 328.42 L2072.99 328.43 L2075 328.44 L2077 328.45 L2079 328.47 L2081 328.48 L2083 328.49 L2085 328.5" fill="none" stroke="#00ff00" stroke-width="7.5" stroke-linejoin="round" stroke-linecap="round"/></g><line x1="1375.5" y1="978.5" x2="1389.5" y2="978.5" stroke="#000" stroke-width="5"/><text x="1335.38" y="1004" font-size="71" textLength="34.55" lengthAdjust="spacingAndGlyphs">0</text><line x1="1375.5" y1="708" x2="1389.5" y2="708" stroke="#000" stroke-width="5"/><text x="1336.28" y="733.5" font-size="71" textLength="36.6" lengthAdjust="spacingAndGlyphs">5</text><line x1="1375.5" y1="437.5" x2="1389.5" y2="437.5" stroke="#000" stroke-width="5"/><text x="1304.6" y="463" font-size="71" textLength="68.6" lengthAdjust="spacingAndGlyphs">10</text><line x1="1375.5" y1="167" x2="1389.5" y2="167" stroke="#000" stroke-width="5"/><text x="1308.68" y="192.5" font-size="71" textLength="62.98" lengthAdjust="spacingAndGlyphs">15</text><line x1="1389.5" y1="978.5" x2="1389.5" y2="992.5" stroke="#000" stroke-width="4.5"/><text x="1374.69" y="1049.5" font-size="67" textLength="35.35" lengthAdjust="spacingAndGlyphs">0</text><line x1="1563.33" y1="978.5" x2="1563.33" y2="992.5" stroke="#000" stroke-width="4.5"/><text x="1524.83" y="1049.5" font-size="67" textLength="82.69" lengthAdjust="spacingAndGlyphs">0.5</text><line x1="1737.15" y1="978.5" x2="1737.15" y2="992.5" stroke="#000" stroke-width="4.5"/><text x="1728.12" y="1049.5" font-size="67" textLength="27.22" lengthAdjust="spacingAndGlyphs">1</text><line x1="1910.97" y1="978.5" x2="1910.97" y2="992.5" stroke="#000" stroke-width="4.5"/><text x="1868.31" y="1049.5" font-size="67" textLength="86.43" lengthAdjust="spacingAndGlyphs">1.5</text><line x1="2084.8" y1="978.5" x2="2084.8" y2="992.5" stroke="#000" stroke-width="4.5"/><text x="2069.06" y="1049.5" font-size="67" textLength="38.46" lengthAdjust="spacingAndGlyphs">2</text><rect x="1389.5" y="167" width="695.3" height="811.5" fill="none" stroke="#000" stroke-width="7"/><rect x="2119.3" y="224.4" width="162.3" height="173.8" fill="#fff" stroke="#000" stroke-width="6"/><line x1="2129" y1="258" x2="2163" y2="258" stroke="#000000" stroke-width="7.5"/><text x="2184.4" y="281" font-size="63" textLength="87" lengthAdjust="spacingAndGlyphs">AA</text><line x1="2129" y1="310.9" x2="2163" y2="310.9" stroke="#ff0000" stroke-width="7.5"/><text x="2182.44" y="333.9" font-size="63" textLength="88.96" lengthAdjust="spacingAndGlyphs">DA</text><line x1="2129" y1="363.8" x2="2163" y2="363.8" stroke="#00ff00" stroke-width="7.5"/><text x="2183.43" y="386.8" font-size="63" textLength="87.97" lengthAdjust="spacingAndGlyphs">UA</text><text transform="translate(1291,0) rotate(-90)" x="-910.5" y="0" font-size="72" font-weight="bold" textLength="673.79" lengthAdjust="spacingAndGlyphs">Coordination number</text><text x="1641.47" y="1113" font-size="71" font-weight="bold" textLength="196.81" lengthAdjust="spacingAndGlyphs">r <tspan font-weight="normal">(</tspan>nm<tspan font-weight="normal">)</tspan></text></g>
<g transform="translate(-2,1211.5)"><clipPath id="cgb"><rect x="285" y="166.7" width="695.6" height="811.3"/></clipPath><g clip-path="url(#cgb)"><path d="M340 978.5C341.17 978 344.17 978.83 347 975.5C349.83 972.17 354.17 966.33 357 958.5C359.83 950.67 362.17 940.17 364 928.5C365.83 916.83 366.83 903.5 368 888.5C369.17 873.5 370.03 851.83 371 838.5C371.97 825.17 372.75 817.42 373.8 808.5C374.85 799.58 375.93 793.83 377.3 785C378.67 776.17 380.23 764.33 382 755.5C383.77 746.67 386.32 738.17 387.9 732C389.48 725.83 390.52 721.42 391.5 718.5C392.48 715.58 393.05 714 393.8 714.5C394.55 715 395.22 716.62 396 721.5C396.78 726.38 397.3 734.2 398.5 743.8C399.7 753.4 401.83 767.33 403.2 779.1C404.57 790.87 405.65 804.5 406.7 814.4C407.75 824.3 408.62 831.98 409.5 838.5C410.38 845.02 410.9 847.72 412 853.5C413.1 859.28 414.65 867.67 416.1 873.2C417.55 878.73 418.2 884.8 420.7 886.7C423.2 888.6 426.95 885.98 431.1 884.6C435.25 883.22 441.45 878.4 445.6 878.4C449.75 878.4 452.88 881.67 456 884.6C459.12 887.53 461.53 891.85 464.3 896C467.07 900.15 469.82 905.52 472.6 909.5C475.38 913.48 478.05 918.68 481 919.9C483.95 921.12 486.5 920.95 490.3 916.8C494.1 912.65 499.47 900.02 503.8 895C508.13 889.98 511.62 887.92 516.3 886.7C520.98 885.48 526.7 888.22 531.9 887.7C537.1 887.18 542.32 884.68 547.5 883.6C552.68 882.52 557.3 880.82 563 881.2C568.7 881.58 576.5 883.57 581.7 885.9C586.9 888.23 588.73 890.52 594.2 895.2C599.67 899.88 608 909.32 614.5 914C621 918.68 627.23 919.93 633.2 923.3C639.17 926.67 644.33 932.9 650.3 934.2C656.27 935.5 660.68 931.88 669 931.1C677.32 930.32 690.27 929.95 700.2 929.5C710.13 929.05 721.33 927.32 728.6 928.4C735.87 929.48 737.47 932.83 743.8 936C750.13 939.17 758.58 944.23 766.6 947.4C774.62 950.57 784.73 952.47 791.9 955C799.07 957.53 801.15 960.07 809.6 962.6C818.05 965.13 830.78 968.3 842.6 970.2C854.42 972.1 865.73 973.17 880.5 974C895.27 974.83 914.62 974.78 931.2 975.2C947.78 975.62 971.87 976.28 980 976.5" fill="none" stroke="#000000" stroke-width="7.5" stroke-linejoin="round" stroke-linecap="round"/><path d="M336 979.5C336.6 978.83 337.62 979.5 339.6 975.5C341.58 971.5 345.53 962.75 347.9 955.5C350.27 948.25 352.23 939.83 353.8 932C355.37 924.17 356.13 918.3 357.3 908.5C358.47 898.7 359.82 886.93 360.8 873.2C361.78 859.47 362.42 843.75 363.2 826.1C363.98 808.45 364.72 786.9 365.5 767.3C366.28 747.7 366.9 729.97 367.9 708.5C368.9 687.03 370.53 659.33 371.5 638.5C372.47 617.67 372.78 597.17 373.7 583.5C374.62 569.83 375.62 564.83 377 556.5C378.38 548.17 380.42 541.5 382 533.5C383.58 525.5 385.33 517.67 386.5 508.5C387.67 499.33 388.17 485.83 389 478.5C389.83 471.17 390.67 465.33 391.5 464.5C392.33 463.67 393.25 467.83 394 473.5C394.75 479.17 395.17 486.83 396 498.5C396.83 510.17 398.08 530 399 543.5C399.92 557 400.5 567 401.5 579.5C402.5 592 403.58 605.33 405 618.5C406.42 631.67 408.33 646.83 410 658.5C411.67 670.17 413.78 679.9 415 688.5C416.22 697.1 416.4 701.32 417.3 710.1C418.2 718.88 419.35 732.55 420.4 741.2C421.45 749.85 422.03 755.42 423.6 762C425.17 768.58 427.22 775.5 429.8 780.7C432.38 785.9 436.33 789.4 439.1 793.2C441.87 797 443.8 799.18 446.4 803.5C449 807.82 451.93 814.1 454.7 819.1C457.47 824.1 460.02 827.6 463 833.5C465.98 839.4 468.92 848.75 472.6 854.5C476.28 860.25 481.28 864.37 485.1 868C488.92 871.63 492.03 873.53 495.5 876.3C498.97 879.07 501.57 881.83 505.9 884.6C510.23 887.37 516.3 890.13 521.5 892.9C526.7 895.67 532.43 898.43 537.1 901.2C541.77 903.97 545.35 906.9 549.5 909.5C553.65 912.1 557.15 914.5 562 916.8C566.85 919.1 572.2 920.92 578.6 923.3C585 925.68 594.42 927.47 600.4 931.1C606.38 934.73 609.57 940.95 614.5 945.1C619.43 949.25 623.52 952.62 630 956C636.48 959.38 645.6 963.05 653.4 965.4C661.2 967.75 665.37 968.8 676.8 970.1C688.23 971.4 671.47 972.3 722 973.2C772.53 974.1 937 975.12 980 975.5" fill="none" stroke="#ff0000" stroke-width="7.5" stroke-linejoin="round" stroke-linecap="round"/><path d="M355 979.5C355.38 979.23 356.53 979.93 357.3 977.9C358.07 975.87 358.62 972.98 359.6 967.3C360.58 961.62 362.02 953.6 363.2 943.8C364.38 934 365.72 922.23 366.7 908.5C367.68 894.77 368.52 875.13 369.1 861.4C369.68 847.67 369.62 841.78 370.2 826.1C370.78 810.42 371.82 786.9 372.6 767.3C373.38 747.7 374.08 734.83 374.9 708.5C375.72 682.17 376.52 642.63 377.5 609.3C378.48 575.97 380.18 530.63 380.8 508.5C381.42 486.37 380.43 495.83 381.2 476.5C381.97 457.17 384.18 414.17 385.4 392.5C386.62 370.83 387.4 357.17 388.5 346.5C389.6 335.83 390.83 329 392 328.5C393.17 328 394.37 332.83 395.5 343.5C396.63 354.17 397.83 370.33 398.8 392.5C399.77 414.67 400.65 457.17 401.3 476.5C401.95 495.83 401.92 486.37 402.7 508.5C403.48 530.63 404.62 575.97 406 609.3C407.38 642.63 409.47 681.32 411 708.5C412.53 735.68 413.97 756.57 415.2 772.4C416.43 788.23 417.35 791.38 418.4 803.5C419.45 815.62 420.77 835.73 421.5 845.1C422.23 854.47 421.9 852.08 422.8 859.7C423.7 867.32 425.52 881.28 426.9 890.8C428.28 900.32 429.18 909 431.1 916.8C433.02 924.6 435.45 931.88 438.4 937.6C441.35 943.32 445.17 948.33 448.8 951.1C452.43 953.87 456.75 954.2 460.2 954.2C463.65 954.2 466.22 953.7 469.5 951.1C472.78 948.5 476.43 943.8 479.9 938.6C483.37 933.4 487.18 925.62 490.3 919.9C493.42 914.18 496 907.58 498.6 904.3C501.2 901.02 503.65 900.02 505.9 900.2C508.15 900.38 509.85 902.12 512.1 905.4C514.35 908.68 516.62 914.88 519.4 919.9C522.18 924.92 525.33 931.17 528.8 935.5C532.27 939.83 536.23 942.95 540.2 945.9C544.17 948.85 548.02 950.47 552.6 953.2C557.18 955.93 561.28 959.75 567.7 962.3C574.12 964.85 582.02 966.95 591.1 968.5C600.18 970.05 611.82 970.82 622.2 971.6C632.58 972.38 640.1 972.63 653.4 973.2C666.7 973.77 647.57 974.53 702 975C756.43 975.47 933.67 975.83 980 976" fill="none" stroke="#00ff00" stroke-width="7.5" stroke-linejoin="round" stroke-linecap="round"/></g><line x1="271" y1="978" x2="285" y2="978" stroke="#000" stroke-width="5"/><text x="229.18" y="1004.8" font-size="71" textLength="36.92" lengthAdjust="spacingAndGlyphs">0</text><line x1="271" y1="746.2" x2="285" y2="746.2" stroke="#000" stroke-width="5"/><text x="161.89" y="773" font-size="71" textLength="104.05" lengthAdjust="spacingAndGlyphs">500</text><line x1="271" y1="514.4" x2="285" y2="514.4" stroke="#000" stroke-width="5"/><text x="133.05" y="541.2" font-size="71" textLength="133.78" lengthAdjust="spacingAndGlyphs">1000</text><line x1="271" y1="282.6" x2="285" y2="282.6" stroke="#000" stroke-width="5"/><text x="133.05" y="309.4" font-size="71" textLength="133.78" lengthAdjust="spacingAndGlyphs">1500</text><line x1="285" y1="978" x2="285" y2="992" stroke="#000" stroke-width="4.5"/><text x="270.19" y="1049.5" font-size="67" textLength="35.35" lengthAdjust="spacingAndGlyphs">0</text><line x1="458.9" y1="978" x2="458.9" y2="992" stroke="#000" stroke-width="4.5"/><text x="420.33" y="1049.5" font-size="67" textLength="82.69" lengthAdjust="spacingAndGlyphs">0.5</text><line x1="632.8" y1="978" x2="632.8" y2="992" stroke="#000" stroke-width="4.5"/><text x="623.62" y="1049.5" font-size="67" textLength="27.22" lengthAdjust="spacingAndGlyphs">1</text><line x1="806.7" y1="978" x2="806.7" y2="992" stroke="#000" stroke-width="4.5"/><text x="763.81" y="1049.5" font-size="67" textLength="86.43" lengthAdjust="spacingAndGlyphs">1.5</text><line x1="980.6" y1="978" x2="980.6" y2="992" stroke="#000" stroke-width="4.5"/><text x="964.56" y="1049.5" font-size="67" textLength="38.46" lengthAdjust="spacingAndGlyphs">2</text><rect x="285" y="166.7" width="695.6" height="811.3" fill="none" stroke="#000" stroke-width="7.5"/><rect x="784" y="225" width="163" height="173" fill="#fff" stroke="#000" stroke-width="6"/><line x1="794" y1="257.5" x2="825.5" y2="257.5" stroke="#000000" stroke-width="7.5"/><text x="848" y="280.5" font-size="63" textLength="87" lengthAdjust="spacingAndGlyphs">AA</text><line x1="794" y1="310.4" x2="825.5" y2="310.4" stroke="#ff0000" stroke-width="7.5"/><text x="846.04" y="333.4" font-size="63" textLength="88.96" lengthAdjust="spacingAndGlyphs">DA</text><line x1="794" y1="363.3" x2="825.5" y2="363.3" stroke="#00ff00" stroke-width="7.5"/><text x="847.03" y="386.3" font-size="63" textLength="87.97" lengthAdjust="spacingAndGlyphs">UA</text><text transform="translate(106,0) rotate(-90)" x="-632.52" y="0" font-size="72" font-weight="bold" textLength="116.88" lengthAdjust="spacingAndGlyphs">g<tspan font-weight="normal">(</tspan>r<tspan font-weight="normal">)</tspan></text><text x="536.97" y="1113" font-size="71" font-weight="bold" textLength="196.81" lengthAdjust="spacingAndGlyphs">r <tspan font-weight="normal">(</tspan>nm<tspan font-weight="normal">)</tspan></text></g>
<g transform="translate(0,1209.5)"><clipPath id="ccb"><rect x="1389.5" y="167" width="695.3" height="811.5"/></clipPath><g clip-path="url(#ccb)"><path d="M1472 982.5 L1472.5 980.56 L1473 978.63 L1473.5 976.69 L1474 974.75 L1474.5 972.81 L1475 970.88 L1475.5 968.94 L1476 967 L1476.5 965.07 L1477.01 963.13 L1477.52 961.2 L1478.03 959.26 L1478.55 957.33 L1479.07 955.4 L1479.59 953.47 L1480.12 951.54 L1480.65 949.61 L1481.19 947.68 L1481.72 945.75 L1482.25 943.82 L1482.77 941.89 L1483.28 939.96 L1483.79 938.02 L1484.28 936.08 L1484.75 934.14 L1485.22 932.19 L1485.67 930.24 L1486.11 928.29 L1486.54 926.34 L1486.96 924.38 L1487.37 922.43 L1487.78 920.47 L1488.17 918.51 L1488.55 916.54 L1488.93 914.58 L1489.3 912.61 L1489.66 910.64 L1490.01 908.67 L1490.35 906.7 L1490.68 904.73 L1491.01 902.76 L1491.34 900.78 L1491.66 898.81 L1491.98 896.83 L1492.3 894.86 L1492.62 892.88 L1492.94 890.91 L1493.27 888.93 L1493.6 886.96 L1493.94 884.99 L1494.28 883.02 L1494.63 881.05 L1494.99 879.08 L1495.35 877.11 L1495.71 875.14 L1496.08 873.18 L1496.46 871.21 L1496.84 869.25 L1497.23 867.29 L1497.62 865.32 L1498.02 863.36 L1498.42 861.41 L1498.83 859.45 L1499.25 857.49 L1499.67 855.54 L1500.1 853.58 L1500.53 851.63 L1500.96 849.67 L1501.39 847.72 L1501.83 845.77 L1502.26 843.81 L1502.69 841.86 L1503.13 839.91 L1503.57 837.95 L1504.01 836 L1504.46 834.05 L1504.91 832.11 L1505.37 830.16 L1505.85 828.22 L1506.33 826.27 L1506.83 824.34 L1507.35 822.41 L1507.88 820.48 L1508.44 818.56 L1509.02 816.65 L1509.62 814.74 L1510.26 812.85 L1510.93 810.97 L1511.63 809.1 L1512.37 807.24 L1513.14 805.4 L1513.95 803.57 L1514.79 801.76 L1515.65 799.96 L1516.54 798.17 L1517.45 796.39 L1518.38 794.62 L1519.32 792.85 L1520.26 791.09 L1521.21 789.33 L1522.16 787.57 L1523.1 785.8 L1524.03 784.03 L1524.96 782.26 L1525.87 780.47 L1526.76 778.69 L1527.65 776.89 L1528.53 775.1 L1529.4 773.3 L1530.27 771.5 L1531.14 769.69 L1532.01 767.89 L1532.88 766.09 L1533.76 764.29 L1534.65 762.5 L1535.55 760.71 L1536.46 758.93 L1537.38 757.16 L1538.31 755.39 L1539.26 753.63 L1540.22 751.87 L1541.2 750.13 L1542.19 748.39 L1543.18 746.66 L1544.19 744.93 L1545.21 743.21 L1546.24 741.49 L1547.27 739.77 L1548.31 738.06 L1549.35 736.36 L1550.4 734.65 L1551.46 732.96 L1552.52 731.26 L1553.59 729.57 L1554.66 727.88 L1555.74 726.2 L1556.83 724.52 L1557.92 722.84 L1559.02 721.17 L1560.13 719.51 L1561.26 717.85 L1562.39 716.21 L1563.55 714.58 L1564.72 712.96 L1565.91 711.35 L1567.13 709.77 L1568.36 708.2 L1569.62 706.64 L1570.9 705.11 L1572.19 703.58 L1573.49 702.06 L1574.8 700.55 L1576.11 699.03 L1577.41 697.52 L1578.71 696 L1580 694.47 L1581.29 692.94 L1582.57 691.4 L1583.84 689.86 L1585.11 688.31 L1586.38 686.76 L1587.64 685.21 L1588.89 683.65 L1590.14 682.09 L1591.38 680.52 L1592.61 678.94 L1593.83 677.35 L1595.04 675.76 L1596.24 674.16 L1597.43 672.55 L1598.61 670.93 L1599.78 669.31 L1600.94 667.68 L1602.09 666.05 L1603.23 664.41 L1604.37 662.76 L1605.51 661.11 L1606.64 659.46 L1607.76 657.81 L1608.88 656.15 L1609.99 654.49 L1611.11 652.82 L1612.22 651.16 L1613.32 649.49 L1614.43 647.82 L1615.53 646.15 L1616.63 644.48 L1617.73 642.81 L1618.82 641.14 L1619.92 639.46 L1621.01 637.78 L1622.1 636.11 L1623.19 634.43 L1624.27 632.75 L1625.36 631.07 L1626.44 629.38 L1627.52 627.7 L1628.59 626.01 L1629.67 624.32 L1630.74 622.63 L1631.81 620.94 L1632.88 619.25 L1633.94 617.56 L1635.01 615.86 L1636.07 614.17 L1637.13 612.47 L1638.19 610.77 L1639.24 609.07 L1640.3 607.37 L1641.35 605.67 L1642.41 603.97 L1643.46 602.27 L1644.51 600.57 L1645.56 598.87 L1646.61 597.16 L1647.66 595.46 L1648.71 593.76 L1649.76 592.05 L1650.8 590.35 L1651.85 588.64 L1652.89 586.93 L1653.94 585.23 L1654.98 583.52 L1656.02 581.81 L1657.06 580.1 L1658.1 578.39 L1659.13 576.68 L1660.17 574.97 L1661.2 573.25 L1662.23 571.54 L1663.26 569.82 L1664.28 568.1 L1665.31 566.38 L1666.33 564.66 L1667.35 562.94 L1668.37 561.22 L1669.38 559.49 L1670.39 557.77 L1671.4 556.04 L1672.4 554.31 L1673.4 552.57 L1674.39 550.84 L1675.38 549.1 L1676.37 547.36 L1677.36 545.62 L1678.34 543.88 L1679.33 542.14 L1680.32 540.4 L1681.31 538.66 L1682.3 536.92 L1683.3 535.19 L1684.3 533.46 L1685.31 531.73 L1686.33 530.01 L1687.35 528.29 L1688.39 526.58 L1689.43 524.87 L1690.48 523.17 L1691.54 521.47 L1692.61 519.78 L1693.69 518.1 L1694.78 516.42 L1695.87 514.74 L1696.97 513.07 L1698.08 511.4 L1699.19 509.74 L1700.32 508.09 L1701.46 506.44 L1702.6 504.8 L1703.76 503.17 L1704.93 501.55 L1706.1 499.93 L1707.3 498.33 L1708.5 496.73 L1709.72 495.15 L1710.96 493.57 L1712.2 492.01 L1713.47 490.46 L1714.74 488.92 L1716.04 487.39 L1717.34 485.88 L1718.66 484.37 L1719.99 482.88 L1721.33 481.4 L1722.69 479.93 L1724.05 478.46 L1725.42 477.01 L1726.81 475.56 L1728.2 474.13 L1729.6 472.7 L1731.02 471.29 L1732.44 469.88 L1733.88 468.49 L1735.32 467.11 L1736.78 465.74 L1738.24 464.37 L1739.71 463.01 L1741.18 461.66 L1742.66 460.31 L1744.13 458.96 L1745.61 457.61 L1747.09 456.26 L1748.57 454.92 L1750.05 453.57 L1751.54 452.23 L1753.03 450.9 L1754.52 449.57 L1756.03 448.26 L1757.55 446.96 L1759.08 445.67 L1760.63 444.4 L1762.18 443.14 L1763.74 441.89 L1765.31 440.65 L1766.89 439.42 L1768.46 438.19 L1770.05 436.96 L1771.63 435.74 L1773.21 434.51 L1774.79 433.29 L1776.37 432.06 L1777.95 430.83 L1779.52 429.6 L1781.1 428.36 L1782.66 427.11 L1784.23 425.87 L1785.78 424.61 L1787.34 423.35 L1788.88 422.08 L1790.42 420.8 L1791.96 419.52 L1793.48 418.22 L1795 416.92 L1796.52 415.62 L1798.02 414.3 L1799.53 412.98 L1801.03 411.66 L1802.52 410.33 L1804.02 409 L1805.51 407.67 L1807 406.33 L1808.49 405 L1809.98 403.66 L1811.47 402.33 L1812.97 401 L1814.47 399.67 L1815.97 398.35 L1817.47 397.03 L1818.98 395.72 L1820.49 394.41 L1822.01 393.11 L1823.54 391.82 L1825.07 390.53 L1826.61 389.26 L1828.16 387.99 L1829.72 386.74 L1831.29 385.49 L1832.86 384.26 L1834.44 383.03 L1836.03 381.81 L1837.62 380.61 L1839.22 379.4 L1840.83 378.21 L1842.44 377.02 L1844.05 375.84 L1845.67 374.67 L1847.29 373.49 L1848.92 372.33 L1850.55 371.17 L1852.18 370.01 L1853.82 368.86 L1855.45 367.71 L1857.09 366.56 L1858.74 365.42 L1860.38 364.28 L1862.03 363.15 L1863.68 362.02 L1865.33 360.9 L1867 359.79 L1868.67 358.7 L1870.36 357.64 L1872.06 356.62 L1873.8 355.65 L1875.56 354.75 L1877.35 353.9 L1879.18 353.12 L1881.03 352.39 L1882.9 351.71 L1884.79 351.07 L1886.69 350.47 L1888.6 349.88 L1890.52 349.31 L1892.44 348.75 L1894.36 348.2 L1896.29 347.66 L1898.21 347.13 L1900.14 346.59 L1902.07 346.07 L1904 345.54 L1905.94 345.02 L1907.87 344.51 L1909.8 344.01 L1911.74 343.52 L1913.69 343.04 L1915.63 342.57 L1917.58 342.12 L1919.53 341.67 L1921.48 341.24 L1923.43 340.8 L1925.39 340.38 L1927.34 339.96 L1929.3 339.55 L1931.26 339.14 L1933.22 338.76 L1935.19 338.39 L1937.16 338.03 L1939.13 337.7 L1941.1 337.39 L1943.08 337.11 L1945.06 336.85 L1947.05 336.62 L1949.04 336.41 L1951.03 336.22 L1953.02 336.06 L1955.02 335.91 L1957.01 335.78 L1959.01 335.67 L1961.01 335.57 L1963 335.48 L1965 335.39 L1967 335.32 L1969 335.24 L1971 335.18 L1973 335.11 L1975 335.05 L1977 334.98 L1979 334.92 L1981 334.85 L1983 334.78 L1985 334.71 L1987 334.64 L1989 334.57 L1991 334.49 L1993 334.42 L1995 334.34 L1996.99 334.27 L1998.99 334.2 L2000.99 334.13 L2002.99 334.06 L2004.99 333.99 L2006.99 333.92 L2008.99 333.86 L2010.99 333.8 L2012.99 333.74 L2014.99 333.68 L2016.99 333.62 L2018.99 333.56 L2020.99 333.51 L2022.99 333.45 L2024.99 333.4 L2026.99 333.35 L2028.99 333.3 L2030.99 333.25 L2032.99 333.2 L2034.99 333.15 L2036.99 333.11 L2038.99 333.06 L2040.99 333.02 L2042.99 332.97 L2044.99 332.93 L2046.99 332.89 L2048.99 332.84 L2050.99 332.8 L2052.99 332.76 L2055 332.72 L2057 332.68 L2059 332.63 L2061 332.59 L2063 332.55 L2065 332.51 L2067 332.47 L2069 332.43 L2071 332.39 L2073 332.35 L2075 332.31 L2077 332.27 L2079 332.22 L2081 332.18 L2083 332.14 L2085 332.1" fill="none" stroke="#000000" stroke-width="7.5" stroke-linejoin="round" stroke-linecap="round"/><path d="M1446 982.5 L1447.15 980.89 L1448.32 979.31 L1449.53 977.77 L1450.8 976.3 L1452.13 974.9 L1453.53 973.56 L1454.97 972.27 L1456.44 971 L1457.91 969.73 L1459.35 968.42 L1460.75 967.05 L1462.09 965.62 L1463.35 964.12 L1464.53 962.55 L1465.62 960.92 L1466.62 959.23 L1467.54 957.48 L1468.36 955.68 L1469.1 953.84 L1469.77 951.98 L1470.37 950.08 L1470.92 948.17 L1471.42 946.24 L1471.89 944.29 L1472.33 942.34 L1472.74 940.39 L1473.14 938.42 L1473.51 936.46 L1473.87 934.49 L1474.2 932.52 L1474.52 930.54 L1474.82 928.57 L1475.11 926.59 L1475.37 924.6 L1475.62 922.62 L1475.87 920.63 L1476.1 918.64 L1476.34 916.66 L1476.58 914.67 L1476.83 912.69 L1477.09 910.7 L1477.37 908.72 L1477.68 906.75 L1478.02 904.78 L1478.38 902.81 L1478.76 900.85 L1479.18 898.89 L1479.62 896.94 L1480.09 895 L1480.58 893.06 L1481.08 891.12 L1481.6 889.19 L1482.14 887.26 L1482.68 885.33 L1483.23 883.41 L1483.79 881.49 L1484.35 879.57 L1484.91 877.65 L1485.48 875.73 L1486.05 873.81 L1486.63 871.89 L1487.21 869.98 L1487.79 868.06 L1488.39 866.15 L1488.99 864.24 L1489.59 862.34 L1490.2 860.43 L1490.81 858.52 L1491.4 856.61 L1491.99 854.7 L1492.55 852.78 L1493.09 850.86 L1493.61 848.92 L1494.09 846.99 L1494.54 845.04 L1494.96 843.08 L1495.35 841.12 L1495.7 839.16 L1496.03 837.18 L1496.33 835.21 L1496.6 833.23 L1496.86 831.24 L1497.09 829.25 L1497.31 827.27 L1497.51 825.28 L1497.71 823.28 L1497.89 821.29 L1498.07 819.3 L1498.24 817.3 L1498.41 815.31 L1498.57 813.31 L1498.74 811.32 L1498.9 809.32 L1499.07 807.33 L1499.23 805.34 L1499.4 803.34 L1499.56 801.35 L1499.73 799.35 L1499.9 797.36 L1500.06 795.36 L1500.22 793.37 L1500.38 791.37 L1500.54 789.38 L1500.7 787.38 L1500.86 785.39 L1501.01 783.39 L1501.16 781.39 L1501.31 779.4 L1501.47 777.4 L1501.62 775.41 L1501.77 773.41 L1501.92 771.42 L1502.07 769.42 L1502.22 767.42 L1502.38 765.43 L1502.53 763.43 L1502.69 761.44 L1502.86 759.44 L1503.02 757.45 L1503.19 755.45 L1503.37 753.46 L1503.56 751.47 L1503.76 749.48 L1503.97 747.49 L1504.19 745.5 L1504.43 743.51 L1504.68 741.53 L1504.94 739.54 L1505.21 737.56 L1505.48 735.58 L1505.75 733.59 L1506.03 731.61 L1506.3 729.63 L1506.56 727.64 L1506.82 725.66 L1507.07 723.67 L1507.32 721.69 L1507.57 719.7 L1507.81 717.72 L1508.06 715.73 L1508.3 713.74 L1508.55 711.76 L1508.79 709.77 L1509.04 707.78 L1509.29 705.8 L1509.55 703.81 L1509.8 701.83 L1510.06 699.84 L1510.33 697.86 L1510.6 695.88 L1510.88 693.9 L1511.17 691.92 L1511.47 689.94 L1511.78 687.96 L1512.1 685.99 L1512.44 684.01 L1512.8 682.04 L1513.17 680.08 L1513.56 678.12 L1513.97 676.16 L1514.4 674.21 L1514.85 672.26 L1515.32 670.31 L1515.8 668.37 L1516.3 666.43 L1516.81 664.5 L1517.32 662.56 L1517.84 660.63 L1518.37 658.7 L1518.89 656.77 L1519.4 654.83 L1519.91 652.9 L1520.42 650.96 L1520.91 649.02 L1521.39 647.08 L1521.87 645.13 L1522.34 643.19 L1522.81 641.24 L1523.27 639.3 L1523.73 637.35 L1524.2 635.4 L1524.67 633.46 L1525.15 631.51 L1525.63 629.57 L1526.13 627.63 L1526.64 625.7 L1527.17 623.77 L1527.73 621.85 L1528.3 619.93 L1528.91 618.03 L1529.54 616.13 L1530.2 614.24 L1530.88 612.37 L1531.59 610.5 L1532.33 608.64 L1533.08 606.78 L1533.84 604.93 L1534.61 603.08 L1535.37 601.24 L1536.13 599.38 L1536.88 597.53 L1537.61 595.67 L1538.33 593.8 L1539.04 591.93 L1539.73 590.05 L1540.41 588.17 L1541.08 586.28 L1541.74 584.39 L1542.39 582.5 L1543.05 580.61 L1543.7 578.72 L1544.35 576.83 L1545.01 574.94 L1545.67 573.05 L1546.35 571.16 L1547.02 569.28 L1547.71 567.4 L1548.41 565.52 L1549.11 563.65 L1549.82 561.78 L1550.54 559.91 L1551.27 558.05 L1552.01 556.19 L1552.75 554.33 L1553.5 552.48 L1554.26 550.62 L1555.03 548.78 L1555.81 546.93 L1556.59 545.09 L1557.39 543.25 L1558.19 541.42 L1559 539.59 L1559.82 537.76 L1560.65 535.94 L1561.48 534.12 L1562.32 532.31 L1563.17 530.49 L1564.02 528.68 L1564.88 526.87 L1565.74 525.07 L1566.6 523.26 L1567.47 521.46 L1568.33 519.65 L1569.2 517.85 L1570.07 516.05 L1570.94 514.24 L1571.81 512.44 L1572.69 510.64 L1573.57 508.84 L1574.45 507.05 L1575.35 505.26 L1576.25 503.47 L1577.16 501.69 L1578.08 499.92 L1579.02 498.15 L1579.98 496.39 L1580.95 494.64 L1581.94 492.91 L1582.95 491.18 L1583.98 489.46 L1585.03 487.76 L1586.09 486.06 L1587.16 484.37 L1588.25 482.69 L1589.34 481.02 L1590.43 479.34 L1591.53 477.67 L1592.63 476 L1593.73 474.32 L1594.82 472.65 L1595.91 470.97 L1597 469.29 L1598.08 467.6 L1599.16 465.92 L1600.24 464.23 L1601.32 462.54 L1602.39 460.86 L1603.47 459.17 L1604.55 457.48 L1605.62 455.79 L1606.7 454.11 L1607.78 452.42 L1608.86 450.74 L1609.94 449.05 L1611.02 447.36 L1612.09 445.68 L1613.17 443.99 L1614.25 442.31 L1615.33 440.62 L1616.4 438.93 L1617.49 437.25 L1618.58 435.57 L1619.68 433.9 L1620.79 432.24 L1621.93 430.6 L1623.09 428.97 L1624.28 427.36 L1625.5 425.78 L1626.74 424.21 L1628 422.66 L1629.29 421.14 L1630.6 419.63 L1631.93 418.13 L1633.28 416.65 L1634.64 415.19 L1636.01 413.73 L1637.39 412.28 L1638.78 410.84 L1640.18 409.41 L1641.58 407.98 L1642.99 406.56 L1644.4 405.14 L1645.82 403.73 L1647.24 402.32 L1648.67 400.91 L1650.1 399.52 L1651.54 398.12 L1652.98 396.74 L1654.43 395.36 L1655.89 393.99 L1657.36 392.63 L1658.83 391.27 L1660.31 389.93 L1661.8 388.59 L1663.3 387.27 L1664.81 385.95 L1666.32 384.64 L1667.84 383.34 L1669.38 382.06 L1670.92 380.78 L1672.47 379.51 L1674.02 378.26 L1675.59 377.01 L1677.16 375.78 L1678.75 374.55 L1680.34 373.34 L1681.93 372.13 L1683.54 370.94 L1685.15 369.75 L1686.78 368.58 L1688.41 367.42 L1690.05 366.27 L1691.69 365.14 L1693.35 364.01 L1695.01 362.9 L1696.68 361.8 L1698.36 360.72 L1700.05 359.65 L1701.75 358.59 L1703.46 357.54 L1705.17 356.51 L1706.9 355.5 L1708.63 354.5 L1710.37 353.51 L1712.12 352.55 L1713.88 351.6 L1715.66 350.67 L1717.44 349.76 L1719.23 348.88 L1721.04 348.02 L1722.86 347.19 L1724.69 346.39 L1726.53 345.62 L1728.39 344.88 L1730.25 344.16 L1732.13 343.48 L1734.02 342.84 L1735.93 342.22 L1737.84 341.64 L1739.76 341.09 L1741.69 340.58 L1743.63 340.09 L1745.58 339.64 L1747.53 339.21 L1749.49 338.81 L1751.45 338.43 L1753.42 338.07 L1755.39 337.73 L1757.37 337.39 L1759.34 337.07 L1761.32 336.75 L1763.29 336.44 L1765.27 336.13 L1767.25 335.81 L1769.22 335.49 L1771.2 335.17 L1773.17 334.85 L1775.15 334.52 L1777.12 334.2 L1779.1 333.87 L1781.07 333.55 L1783.05 333.24 L1785.03 332.93 L1787.01 332.64 L1788.99 332.36 L1790.97 332.09 L1792.96 331.84 L1794.94 331.6 L1796.93 331.38 L1798.92 331.17 L1800.91 330.97 L1802.91 330.78 L1804.9 330.6 L1806.89 330.43 L1808.89 330.26 L1810.88 330.1 L1812.88 329.95 L1814.87 329.81 L1816.87 329.67 L1818.87 329.53 L1820.86 329.4 L1822.86 329.28 L1824.86 329.16 L1826.86 329.05 L1828.86 328.94 L1830.86 328.83 L1832.85 328.73 L1834.85 328.63 L1836.85 328.54 L1838.85 328.45 L1840.85 328.37 L1842.85 328.28 L1844.85 328.2 L1846.85 328.13 L1848.85 328.05 L1850.85 327.98 L1852.85 327.92 L1854.85 327.85 L1856.85 327.79 L1858.85 327.73 L1860.86 327.67 L1862.86 327.61 L1864.86 327.56 L1866.86 327.5 L1868.86 327.45 L1870.86 327.41 L1872.86 327.36 L1874.86 327.31 L1876.86 327.27 L1878.86 327.23 L1880.86 327.19 L1882.87 327.14 L1884.87 327.11 L1886.87 327.07 L1888.87 327.03 L1890.87 326.99 L1892.87 326.96 L1894.87 326.92 L1896.87 326.89 L1898.88 326.86 L1900.88 326.82 L1902.88 326.79 L1904.88 326.76 L1906.88 326.72 L1908.88 326.69 L1910.88 326.66 L1912.88 326.63 L1914.89 326.6 L1916.89 326.56 L1918.89 326.53 L1920.89 326.5 L1922.89 326.47 L1924.89 326.44 L1926.89 326.41 L1928.89 326.38 L1930.9 326.35 L1932.9 326.31 L1934.9 326.28 L1936.9 326.25 L1938.9 326.22 L1940.9 326.19 L1942.9 326.16 L1944.9 326.13 L1946.91 326.1 L1948.91 326.07 L1950.91 326.05 L1952.91 326.02 L1954.91 325.99 L1956.91 325.96 L1958.91 325.93 L1960.92 325.91 L1962.92 325.88 L1964.92 325.85 L1966.92 325.82 L1968.92 325.79 L1970.92 325.77 L1972.92 325.74 L1974.92 325.71 L1976.93 325.69 L1978.93 325.66 L1980.93 325.63 L1982.93 325.61 L1984.93 325.58 L1986.93 325.55 L1988.93 325.53 L1990.94 325.5 L1992.94 325.47 L1994.94 325.45 L1996.94 325.42 L1998.94 325.4 L2000.94 325.37 L2002.94 325.34 L2004.95 325.32 L2006.95 325.29 L2008.95 325.27 L2010.95 325.24 L2012.95 325.22 L2014.95 325.19 L2016.95 325.16 L2018.95 325.14 L2020.96 325.11 L2022.96 325.09 L2024.96 325.06 L2026.96 325.04 L2028.96 325.01 L2030.96 324.99 L2032.96 324.96 L2034.97 324.94 L2036.97 324.91 L2038.97 324.88 L2040.97 324.86 L2042.97 324.83 L2044.97 324.81 L2046.97 324.78 L2048.98 324.76 L2050.98 324.73 L2052.98 324.71 L2054.98 324.68 L2056.98 324.66 L2058.98 324.63 L2060.98 324.61 L2062.98 324.58 L2064.99 324.56 L2066.99 324.53 L2068.99 324.51 L2070.99 324.48 L2072.99 324.45 L2074.99 324.43 L2076.99 324.4 L2079 324.38 L2081 324.35 L2083 324.33 L2085 324.3" fill="none" stroke="#ff0000" stroke-width="7.5" stroke-linejoin="round" stroke-linecap="round"/><path d="M1468 982.5 L1468.97 980.77 L1469.92 979.03 L1470.82 977.27 L1471.66 975.48 L1472.42 973.65 L1473.11 971.8 L1473.73 969.92 L1474.3 968.01 L1474.81 966.08 L1475.29 964.15 L1475.74 962.2 L1476.16 960.25 L1476.57 958.29 L1476.95 956.33 L1477.32 954.36 L1477.68 952.4 L1478.03 950.43 L1478.36 948.45 L1478.67 946.48 L1478.98 944.5 L1479.27 942.52 L1479.54 940.54 L1479.81 938.56 L1480.06 936.58 L1480.3 934.59 L1480.53 932.6 L1480.75 930.62 L1480.96 928.63 L1481.16 926.64 L1481.36 924.65 L1481.55 922.66 L1481.73 920.67 L1481.92 918.67 L1482.09 916.68 L1482.27 914.69 L1482.45 912.7 L1482.62 910.7 L1482.8 908.71 L1482.97 906.72 L1483.14 904.73 L1483.32 902.73 L1483.49 900.74 L1483.66 898.75 L1483.83 896.76 L1484 894.76 L1484.17 892.77 L1484.34 890.78 L1484.5 888.78 L1484.67 886.79 L1484.83 884.8 L1484.99 882.8 L1485.16 880.81 L1485.32 878.81 L1485.48 876.82 L1485.63 874.83 L1485.79 872.83 L1485.95 870.84 L1486.11 868.85 L1486.27 866.85 L1486.42 864.86 L1486.58 862.86 L1486.74 860.87 L1486.9 858.88 L1487.06 856.88 L1487.22 854.89 L1487.38 852.89 L1487.54 850.9 L1487.7 848.91 L1487.86 846.91 L1488.02 844.92 L1488.18 842.93 L1488.35 840.93 L1488.51 838.94 L1488.68 836.94 L1488.84 834.95 L1489 832.96 L1489.17 830.96 L1489.33 828.97 L1489.49 826.98 L1489.65 824.98 L1489.82 822.99 L1489.97 821 L1490.13 819 L1490.29 817.01 L1490.45 815.01 L1490.6 813.02 L1490.75 811.03 L1490.9 809.03 L1491.05 807.04 L1491.19 805.04 L1491.33 803.05 L1491.47 801.05 L1491.61 799.06 L1491.74 797.06 L1491.87 795.06 L1492 793.07 L1492.12 791.07 L1492.25 789.07 L1492.37 787.08 L1492.48 785.08 L1492.6 783.08 L1492.71 781.09 L1492.83 779.09 L1492.94 777.09 L1493.05 775.1 L1493.16 773.1 L1493.28 771.1 L1493.39 769.11 L1493.5 767.11 L1493.62 765.11 L1493.73 763.11 L1493.85 761.12 L1493.97 759.12 L1494.09 757.12 L1494.22 755.13 L1494.34 753.13 L1494.47 751.14 L1494.6 749.14 L1494.73 747.14 L1494.87 745.15 L1495 743.15 L1495.14 741.16 L1495.28 739.16 L1495.42 737.17 L1495.56 735.17 L1495.7 733.18 L1495.85 731.18 L1495.99 729.19 L1496.14 727.19 L1496.28 725.2 L1496.43 723.2 L1496.58 721.21 L1496.72 719.21 L1496.87 717.22 L1497.02 715.22 L1497.17 713.23 L1497.32 711.23 L1497.46 709.24 L1497.61 707.24 L1497.76 705.25 L1497.91 703.25 L1498.06 701.26 L1498.21 699.27 L1498.35 697.27 L1498.5 695.28 L1498.65 693.28 L1498.8 691.29 L1498.95 689.29 L1499.1 687.3 L1499.25 685.3 L1499.39 683.31 L1499.54 681.31 L1499.69 679.32 L1499.84 677.32 L1499.99 675.33 L1500.14 673.34 L1500.29 671.34 L1500.44 669.35 L1500.59 667.35 L1500.74 665.36 L1500.89 663.36 L1501.04 661.37 L1501.2 659.37 L1501.35 657.38 L1501.5 655.38 L1501.65 653.39 L1501.8 651.4 L1501.95 649.4 L1502.1 647.41 L1502.25 645.41 L1502.4 643.42 L1502.55 641.42 L1502.7 639.43 L1502.85 637.43 L1502.99 635.44 L1503.14 633.44 L1503.28 631.45 L1503.43 629.45 L1503.57 627.46 L1503.71 625.46 L1503.85 623.47 L1503.98 621.47 L1504.12 619.48 L1504.25 617.48 L1504.38 615.48 L1504.52 613.49 L1504.65 611.49 L1504.78 609.5 L1504.91 607.5 L1505.05 605.51 L1505.18 603.51 L1505.32 601.51 L1505.45 599.52 L1505.59 597.52 L1505.73 595.53 L1505.87 593.53 L1506.02 591.54 L1506.17 589.54 L1506.33 587.55 L1506.48 585.56 L1506.65 583.56 L1506.82 581.57 L1507 579.58 L1507.19 577.59 L1507.39 575.6 L1507.6 573.61 L1507.82 571.62 L1508.06 569.64 L1508.32 567.65 L1508.6 565.67 L1508.9 563.7 L1509.22 561.73 L1509.56 559.76 L1509.93 557.79 L1510.32 555.83 L1510.73 553.87 L1511.15 551.92 L1511.59 549.97 L1512.03 548.02 L1512.48 546.07 L1512.93 544.12 L1513.37 542.17 L1513.81 540.22 L1514.23 538.26 L1514.65 536.31 L1515.05 534.35 L1515.45 532.39 L1515.85 530.43 L1516.24 528.47 L1516.63 526.51 L1517.02 524.55 L1517.41 522.58 L1517.81 520.62 L1518.21 518.66 L1518.6 516.7 L1519.01 514.74 L1519.41 512.78 L1519.81 510.83 L1520.22 508.87 L1520.64 506.91 L1521.08 504.96 L1521.53 503.02 L1522 501.08 L1522.51 499.15 L1523.06 497.23 L1523.65 495.33 L1524.29 493.44 L1524.98 491.57 L1525.73 489.72 L1526.53 487.9 L1527.37 486.09 L1528.27 484.31 L1529.2 482.55 L1530.18 480.82 L1531.2 479.1 L1532.26 477.41 L1533.35 475.74 L1534.48 474.09 L1535.64 472.47 L1536.84 470.87 L1538.07 469.31 L1539.34 467.77 L1540.65 466.27 L1542.01 464.81 L1543.4 463.4 L1544.85 462.03 L1546.33 460.7 L1547.86 459.43 L1549.43 458.2 L1551.03 457.03 L1552.67 455.9 L1554.34 454.81 L1556.04 453.77 L1557.76 452.76 L1559.51 451.8 L1561.27 450.86 L1563.04 449.94 L1564.83 449.03 L1566.61 448.14 L1568.4 447.24 L1570.18 446.33 L1571.95 445.4 L1573.7 444.46 L1575.44 443.48 L1577.15 442.46 L1578.83 441.39 L1580.46 440.27 L1582.04 439.08 L1583.56 437.82 L1585.02 436.5 L1586.43 435.1 L1587.78 433.65 L1589.08 432.15 L1590.34 430.61 L1591.57 429.04 L1592.79 427.46 L1594 425.87 L1595.2 424.27 L1596.4 422.67 L1597.6 421.07 L1598.78 419.47 L1599.94 417.85 L1601.07 416.21 L1602.15 414.54 L1603.17 412.84 L1604.12 411.1 L1605.01 409.33 L1605.83 407.52 L1606.59 405.69 L1607.31 403.83 L1608 401.96 L1608.66 400.07 L1609.33 398.19 L1610.01 396.32 L1610.71 394.45 L1611.46 392.6 L1612.25 390.78 L1613.1 388.98 L1614 387.2 L1614.95 385.46 L1615.96 383.74 L1617.02 382.05 L1618.12 380.39 L1619.27 378.76 L1620.45 377.15 L1621.67 375.58 L1622.92 374.03 L1624.21 372.51 L1625.54 371.02 L1626.91 369.58 L1628.32 368.17 L1629.78 366.82 L1631.27 365.51 L1632.81 364.25 L1634.4 363.05 L1636.02 361.9 L1637.68 360.8 L1639.37 359.75 L1641.09 358.74 L1642.83 357.77 L1644.6 356.84 L1646.38 355.94 L1648.18 355.07 L1649.99 354.23 L1651.82 353.42 L1653.65 352.62 L1655.49 351.83 L1657.33 351.06 L1659.18 350.3 L1661.04 349.55 L1662.9 348.82 L1664.76 348.08 L1666.62 347.37 L1668.49 346.66 L1670.37 345.97 L1672.25 345.29 L1674.14 344.64 L1676.04 344 L1677.94 343.39 L1679.85 342.81 L1681.77 342.25 L1683.69 341.71 L1685.63 341.2 L1687.56 340.72 L1689.51 340.25 L1691.46 339.81 L1693.41 339.39 L1695.37 338.99 L1697.33 338.6 L1699.3 338.23 L1701.27 337.88 L1703.24 337.55 L1705.21 337.23 L1707.19 336.92 L1709.16 336.63 L1711.14 336.35 L1713.13 336.09 L1715.11 335.83 L1717.1 335.6 L1719.08 335.37 L1721.07 335.16 L1723.06 334.97 L1725.05 334.78 L1727.05 334.61 L1729.04 334.45 L1731.03 334.3 L1733.03 334.16 L1735.02 334.03 L1737.02 333.9 L1739.02 333.78 L1741.01 333.67 L1743.01 333.56 L1745.01 333.46 L1747.01 333.35 L1749 333.26 L1751 333.16 L1753 333.06 L1755 332.97 L1757 332.88 L1758.99 332.79 L1760.99 332.7 L1762.99 332.61 L1764.99 332.53 L1766.99 332.45 L1768.99 332.37 L1770.98 332.3 L1772.98 332.23 L1774.98 332.16 L1776.98 332.1 L1778.98 332.04 L1780.98 331.99 L1782.98 331.94 L1784.98 331.89 L1786.98 331.85 L1788.98 331.81 L1790.98 331.77 L1792.98 331.73 L1794.98 331.69 L1796.98 331.66 L1798.98 331.62 L1800.98 331.59 L1802.98 331.55 L1804.98 331.52 L1806.98 331.49 L1808.98 331.45 L1810.98 331.42 L1812.98 331.39 L1814.98 331.36 L1816.98 331.33 L1818.98 331.3 L1820.98 331.27 L1822.98 331.24 L1824.98 331.21 L1826.98 331.19 L1828.98 331.16 L1830.98 331.13 L1832.98 331.1 L1834.98 331.08 L1836.98 331.05 L1838.98 331.03 L1840.98 331 L1842.98 330.98 L1844.98 330.96 L1846.98 330.94 L1848.98 330.91 L1850.98 330.89 L1852.98 330.87 L1854.98 330.85 L1856.98 330.83 L1858.98 330.81 L1860.98 330.79 L1862.98 330.77 L1864.98 330.75 L1866.98 330.74 L1868.98 330.72 L1870.98 330.7 L1872.98 330.69 L1874.98 330.67 L1876.98 330.65 L1878.98 330.64 L1880.98 330.62 L1882.98 330.61 L1884.98 330.6 L1886.98 330.58 L1888.98 330.57 L1890.98 330.56 L1892.98 330.54 L1894.98 330.53 L1896.98 330.52 L1898.98 330.51 L1900.98 330.5 L1902.98 330.49 L1904.98 330.48 L1906.98 330.47 L1908.98 330.46 L1910.98 330.45 L1912.98 330.44 L1914.98 330.43 L1916.98 330.42 L1918.98 330.41 L1920.98 330.4 L1922.98 330.4 L1924.98 330.39 L1926.98 330.38 L1928.98 330.37 L1930.99 330.37 L1932.99 330.36 L1934.99 330.35 L1936.99 330.35 L1938.99 330.34 L1940.99 330.33 L1942.99 330.33 L1944.99 330.32 L1946.99 330.31 L1948.99 330.31 L1950.99 330.3 L1952.99 330.3 L1954.99 330.29 L1956.99 330.29 L1958.99 330.28 L1960.99 330.27 L1962.99 330.27 L1964.99 330.26 L1966.99 330.26 L1968.99 330.25 L1970.99 330.25 L1972.99 330.24 L1974.99 330.24 L1976.99 330.23 L1978.99 330.23 L1980.99 330.22 L1982.99 330.22 L1984.99 330.21 L1986.99 330.21 L1988.99 330.2 L1990.99 330.2 L1992.99 330.19 L1994.99 330.19 L1996.99 330.19 L1998.99 330.18 L2000.99 330.18 L2002.99 330.17 L2004.99 330.17 L2006.99 330.16 L2008.99 330.16 L2010.99 330.15 L2012.99 330.15 L2014.99 330.15 L2016.99 330.14 L2018.99 330.14 L2020.99 330.13 L2022.99 330.13 L2024.99 330.13 L2026.99 330.12 L2028.99 330.12 L2030.99 330.11 L2032.99 330.11 L2035 330.11 L2037 330.1 L2039 330.1 L2041 330.09 L2043 330.09 L2045 330.09 L2047 330.08 L2049 330.08 L2051 330.07 L2053 330.07 L2055 330.07 L2057 330.06 L2059 330.06 L2061 330.05 L2063 330.05 L2065 330.04 L2067 330.04 L2069 330.04 L2071 330.03 L2073 330.03 L2075 330.02 L2077 330.02 L2079 330.01 L2081 330.01 L2083 330 L2085 330" fill="none" stroke="#00ff00" stroke-width="7.5" stroke-linejoin="round" stroke-linecap="round"/></g><line x1="1375.5" y1="978.5" x2="1389.5" y2="978.5" stroke="#000" stroke-width="5"/><text x="1335.38" y="1004" font-size="71" textLength="34.55" lengthAdjust="spacingAndGlyphs">0</text><line x1="1375.5" y1="708" x2="1389.5" y2="708" stroke="#000" stroke-width="5"/><text x="1336.28" y="733.5" font-size="71" textLength="36.6" lengthAdjust="spacingAndGlyphs">5</text><line x1="1375.5" y1="437.5" x2="1389.5" y2="437.5" stroke="#000" stroke-width="5"/><text x="1304.6" y="463" font-size="71" textLength="68.6" lengthAdjust="spacingAndGlyphs">10</text><line x1="1375.5" y1="167" x2="1389.5" y2="167" stroke="#000" stroke-width="5"/><text x="1308.68" y="192.5" font-size="71" textLength="62.98" lengthAdjust="spacingAndGlyphs">15</text><line x1="1389.5" y1="978.5" x2="1389.5" y2="992.5" stroke="#000" stroke-width="4.5"/><text x="1374.69" y="1049.5" font-size="67" textLength="35.35" lengthAdjust="spacingAndGlyphs">0</text><line x1="1563.33" y1="978.5" x2="1563.33" y2="992.5" stroke="#000" stroke-width="4.5"/><text x="1524.83" y="1049.5" font-size="67" textLength="82.69" lengthAdjust="spacingAndGlyphs">0.5</text><line x1="1737.15" y1="978.5" x2="1737.15" y2="992.5" stroke="#000" stroke-width="4.5"/><text x="1728.12" y="1049.5" font-size="67" textLength="27.22" lengthAdjust="spacingAndGlyphs">1</text><line x1="1910.97" y1="978.5" x2="1910.97" y2="992.5" stroke="#000" stroke-width="4.5"/><text x="1868.31" y="1049.5" font-size="67" textLength="86.43" lengthAdjust="spacingAndGlyphs">1.5</text><line x1="2084.8" y1="978.5" x2="2084.8" y2="992.5" stroke="#000" stroke-width="4.5"/><text x="2069.06" y="1049.5" font-size="67" textLength="38.46" lengthAdjust="spacingAndGlyphs">2</text><rect x="1389.5" y="167" width="695.3" height="811.5" fill="none" stroke="#000" stroke-width="7"/><rect x="2119.3" y="224.4" width="162.3" height="173.8" fill="#fff" stroke="#000" stroke-width="6"/><line x1="2129" y1="258" x2="2163" y2="258" stroke="#000000" stroke-width="7.5"/><text x="2184.4" y="281" font-size="63" textLength="87" lengthAdjust="spacingAndGlyphs">AA</text><line x1="2129" y1="310.9" x2="2163" y2="310.9" stroke="#ff0000" stroke-width="7.5"/><text x="2182.44" y="333.9" font-size="63" textLength="88.96" lengthAdjust="spacingAndGlyphs">DA</text><line x1="2129" y1="363.8" x2="2163" y2="363.8" stroke="#00ff00" stroke-width="7.5"/><text x="2183.43" y="386.8" font-size="63" textLength="87.97" lengthAdjust="spacingAndGlyphs">UA</text><text transform="translate(1291,0) rotate(-90)" x="-910.5" y="0" font-size="72" font-weight="bold" textLength="673.79" lengthAdjust="spacingAndGlyphs">Coordination number</text><text x="1641.47" y="1113" font-size="71" font-weight="bold" textLength="196.81" lengthAdjust="spacingAndGlyphs">r <tspan font-weight="normal">(</tspan>nm<tspan font-weight="normal">)</tspan></text></g>
<g transform="translate(0,2423)"><clipPath id="cgc"><rect x="285" y="166.7" width="695.6" height="811.3"/></clipPath><g clip-path="url(#cgc)"><path d="M327 979C327.5 967 329.17 940.67 330 907C330.83 873.33 331.5 813.67 332 777C332.5 740.33 332.58 704.67 333 687C333.42 669.33 334 671 334.5 671C335 671 335.38 678.73 336 687C336.62 695.27 337.23 705.9 338.2 720.6C339.17 735.3 340.58 757.02 341.8 775.2C343.02 793.38 343.98 814.57 345.5 829.7C347.02 844.83 349.4 855.7 350.9 866C352.4 876.3 352.98 897.55 354.5 891.5C356.02 885.45 358.63 855.15 360 829.7C361.37 804.25 361.95 769.1 362.7 738.8C363.45 708.5 363.58 670.7 364.5 647.9C365.42 625.1 366.98 602 368.2 602C369.42 602 370.75 632.67 371.8 647.9C372.85 663.13 373.43 681.28 374.5 693.4C375.57 705.52 376.83 719.08 378.2 720.6C379.57 722.12 381.48 714.62 382.7 702.5C383.92 690.38 384.43 664.57 385.5 647.9C386.57 631.23 388.05 611.32 389.1 602.5C390.15 593.68 390.98 594.25 391.8 595C392.62 595.75 393.23 601.22 394 607C394.77 612.78 395.55 616.82 396.4 629.7C397.25 642.58 398.2 669.15 399.1 684.3C400 699.45 400.73 708.48 401.8 720.6C402.87 732.72 404.28 746.38 405.5 757C406.72 767.62 407.28 777.03 409.1 784.3C410.92 791.57 414.28 800.6 416.4 800.6C418.52 800.6 420.45 791.57 421.8 784.3C423.15 777.03 423.73 762.77 424.5 757C425.27 751.23 425.78 748.2 426.4 749.7C427.02 751.2 427.45 757.2 428.2 766C428.95 774.8 429.53 793.4 430.9 802.5C432.27 811.6 434.43 819.1 436.4 820.6C438.37 822.1 440.88 809.98 442.7 811.5C444.52 813.02 445.63 823.03 447.3 829.7C448.97 836.37 450.28 845.45 452.7 851.5C455.12 857.55 458.77 860.53 461.8 866C464.83 871.47 467.87 879.73 470.9 884.3C473.93 888.87 476.97 890.98 480 893.4C483.03 895.82 486.07 896.08 489.1 898.8C492.13 901.52 494.87 906.37 498.2 909.7C501.53 913.03 505.77 915.17 509.1 918.8C512.43 922.43 513.97 928.17 518.2 931.5C522.43 934.83 529.95 936.67 534.5 938.8C539.05 940.93 542.63 942.05 545.5 944.3C548.37 946.55 548.72 949.98 551.7 952.3C554.68 954.62 558.53 957.95 563.4 958.2C568.27 958.45 573.12 954.53 580.9 953.8C588.68 953.07 602.3 954.05 610.1 953.8C617.9 953.55 620.88 951.33 627.7 952.3C634.52 953.27 643.7 957.15 651 959.6C658.3 962.05 664.67 964.8 671.5 967C678.33 969.2 679.82 971.73 692 972.8C704.18 973.87 721.23 973.4 744.6 973.4C767.97 973.4 810.3 973 832.2 972.8C854.1 972.6 856.52 971.95 876 972.2C895.48 972.45 931.77 973.92 949.1 974.3C966.43 974.68 974.85 974.47 980 974.5" fill="none" stroke="#000000" stroke-width="7.5" stroke-linejoin="round" stroke-linecap="round"/><path d="M325 979C325.08 978.33 324.97 993.83 325.5 975C326.03 956.17 327.45 900.83 328.2 866C328.95 831.17 329.25 785.83 330 766C330.75 746.17 331.95 747 332.7 747C333.45 747 333.88 746.17 334.5 766C335.12 785.83 335.48 842.5 336.4 866C337.32 889.5 338.48 896.53 340 907C341.52 917.47 343.83 926.3 345.5 928.8C347.17 931.3 348.18 929.42 350 922C351.82 914.58 354.73 905.73 356.4 884.3C358.07 862.87 358.8 820.68 360 793.4C361.2 766.12 362.38 735.67 363.6 720.6C364.82 705.53 366.23 696.93 367.3 703C368.37 709.07 369.1 738.92 370 757C370.9 775.08 371.63 797.87 372.7 811.5C373.77 825.13 375.18 833.33 376.4 838.8C377.62 844.27 378.65 845.82 380 844.3C381.35 842.78 383.28 838.18 384.5 829.7C385.72 821.22 386.53 811.58 387.3 793.4C388.07 775.22 388.2 738.67 389.1 720.6C390 702.53 391.48 681.97 392.7 685C393.92 688.03 395.18 720.73 396.4 738.8C397.62 756.87 398.8 775.22 400 793.4C401.2 811.58 402.38 832.75 403.6 847.9C404.82 863.05 405.78 876.12 407.3 884.3C408.82 892.48 410.58 895.48 412.7 897C414.82 898.52 418.18 896.13 420 893.4C421.82 890.67 422.38 888.18 423.6 880.6C424.82 873.02 426.08 865.47 427.3 847.9C428.52 830.33 429.7 799.43 430.9 775.2C432.1 750.97 432.98 720.03 434.5 702.5C436.02 684.97 438.48 666.98 440 670C441.52 673.02 442.38 707.62 443.6 720.6C444.82 733.58 445.48 743.65 447.3 747.9C449.12 752.15 452.38 745.8 454.5 746.1C456.62 746.4 458.48 744.85 460 749.7C461.52 754.55 462.38 767.92 463.6 775.2C464.82 782.48 466.08 793.4 467.3 793.4C468.52 793.4 469.53 784.27 470.9 775.2C472.27 766.13 474.28 740.53 475.5 739C476.72 737.47 477.15 753.92 478.2 766C479.25 778.08 480.58 797.85 481.8 811.5C483.02 825.15 483.98 838.82 485.5 847.9C487.02 856.98 488.78 863.57 490.9 866C493.02 868.43 496.08 867.03 498.2 862.5C500.32 857.97 502.08 847.3 503.6 838.8C505.12 830.3 506.23 817.55 507.3 811.5C508.37 805.45 508.8 800.08 510 802.5C511.2 804.92 512.83 823.88 514.5 826C516.17 828.12 518.17 818.82 520 815.2C521.83 811.58 523.68 805.22 525.5 804.3C527.32 803.38 528.78 806.08 530.9 809.7C533.02 813.32 535.47 822.95 538.2 826C540.93 829.05 544.88 825.57 547.3 828C549.72 830.43 551.25 836.43 552.7 840.6C554.15 844.77 554.22 846.07 556 853C557.78 859.93 560.72 874.42 563.4 882.2C566.08 889.98 566.75 896.28 572.1 899.7C577.45 903.12 589.65 899.28 595.5 902.7C601.35 906.12 602.82 914.85 607.2 920.2C611.58 925.55 615.95 930.42 621.8 934.8C627.65 939.18 634.98 943.08 642.3 946.5C649.62 949.92 658.4 952.38 665.7 955.3C673 958.22 679.78 961.33 686.1 964C692.42 966.67 693.85 969.83 703.6 971.3C713.35 972.77 698.53 972.35 744.6 972.8C790.67 973.25 940.77 973.8 980 974" fill="none" stroke="#ff0000" stroke-width="7.5" stroke-linejoin="round" stroke-linecap="round"/><path d="M331 979C331.28 978.33 331.8 980.18 332.7 975C333.6 969.82 334.88 958.48 336.4 947.9C337.92 937.32 339.98 918.48 341.8 911.5C343.62 904.52 345.48 904.48 347.3 906C349.12 907.52 350.58 916.35 352.7 920.6C354.82 924.85 357.57 933.02 360 931.5C362.43 929.98 364.88 918.77 367.3 911.5C369.72 904.23 372.53 892.73 374.5 887.9C376.47 883.07 377.27 880.68 379.1 882.5C380.93 884.32 382.93 894.57 385.5 898.8C388.07 903.03 391.48 908.5 394.5 907.9C397.52 907.3 400.57 900.95 403.6 895.2C406.63 889.45 410.27 878.27 412.7 873.4C415.13 868.53 416.07 865.4 418.2 866C420.33 866.6 423.08 874.25 425.5 877C427.92 879.75 430.28 882.5 432.7 882.5C435.12 882.5 437.57 879.75 440 877C442.43 874.25 444.88 869.93 447.3 866C449.72 862.07 452.08 852.78 454.5 853.4C456.92 854.02 459.07 864.85 461.8 869.7C464.53 874.55 467.57 881.88 470.9 882.5C474.23 883.12 477.87 876.73 481.8 873.4C485.73 870.07 490.87 863.12 494.5 862.5C498.13 861.88 500.57 866.68 503.6 869.7C506.63 872.72 509.37 877.57 512.7 880.6C516.03 883.63 519.97 887 523.6 887.9C527.23 888.8 531.47 885.4 534.5 886C537.53 886.6 539.37 888.75 541.8 891.5C544.23 894.25 546.07 900.25 549.1 902.5C552.13 904.75 555.67 904.48 560 905C564.33 905.52 569.67 905.75 575.1 905.6C580.53 905.45 586.27 902.65 592.6 904.1C598.93 905.55 605.8 911.62 613.1 914.3C620.4 916.98 629.1 917.27 636.4 920.2C643.7 923.13 651.05 928.5 656.9 931.9C662.75 935.3 664.2 937.2 671.5 940.6C678.8 944 690.95 948.63 700.7 952.3C710.45 955.97 720.25 959.67 730 962.6C739.75 965.53 749.47 968.2 759.2 969.9C768.93 971.6 778.18 972.07 788.4 972.8C798.62 973.53 788.57 973.93 820.5 974.3C852.43 974.67 953.42 974.88 980 975" fill="none" stroke="#00ff00" stroke-width="7.5" stroke-linejoin="round" stroke-linecap="round"/></g><line x1="271" y1="978" x2="285" y2="978" stroke="#000" stroke-width="5"/><text x="229.18" y="1004.8" font-size="71" textLength="36.92" lengthAdjust="spacingAndGlyphs">0</text><line x1="271" y1="746.2" x2="285" y2="746.2" stroke="#000" stroke-width="5"/><text x="161.89" y="773" font-size="71" textLength="104.05" lengthAdjust="spacingAndGlyphs">500</text><line x1="271" y1="514.4" x2="285" y2="514.4" stroke="#000" stroke-width="5"/><text x="133.05" y="541.2" font-size="71" textLength="133.78" lengthAdjust="spacingAndGlyphs">1000</text><line x1="271" y1="282.6" x2="285" y2="282.6" stroke="#000" stroke-width="5"/><text x="133.05" y="309.4" font-size="71" textLength="133.78" lengthAdjust="spacingAndGlyphs">1500</text><line x1="285" y1="978" x2="285" y2="992" stroke="#000" stroke-width="4.5"/><text x="270.19" y="1049.5" font-size="67" textLength="35.35" lengthAdjust="spacingAndGlyphs">0</text><line x1="458.9" y1="978" x2="458.9" y2="992" stroke="#000" stroke-width="4.5"/><text x="420.33" y="1049.5" font-size="67" textLength="82.69" lengthAdjust="spacingAndGlyphs">0.5</text><line x1="632.8" y1="978" x2="632.8" y2="992" stroke="#000" stroke-width="4.5"/><text x="623.62" y="1049.5" font-size="67" textLength="27.22" lengthAdjust="spacingAndGlyphs">1</text><line x1="806.7" y1="978" x2="806.7" y2="992" stroke="#000" stroke-width="4.5"/><text x="763.81" y="1049.5" font-size="67" textLength="86.43" lengthAdjust="spacingAndGlyphs">1.5</text><line x1="980.6" y1="978" x2="980.6" y2="992" stroke="#000" stroke-width="4.5"/><text x="964.56" y="1049.5" font-size="67" textLength="38.46" lengthAdjust="spacingAndGlyphs">2</text><rect x="285" y="166.7" width="695.6" height="811.3" fill="none" stroke="#000" stroke-width="7.5"/><rect x="784" y="225" width="163" height="173" fill="#fff" stroke="#000" stroke-width="6"/><line x1="794" y1="257.5" x2="825.5" y2="257.5" stroke="#000000" stroke-width="7.5"/><text x="848" y="280.5" font-size="63" textLength="87" lengthAdjust="spacingAndGlyphs">AA</text><line x1="794" y1="310.4" x2="825.5" y2="310.4" stroke="#ff0000" stroke-width="7.5"/><text x="846.04" y="333.4" font-size="63" textLength="88.96" lengthAdjust="spacingAndGlyphs">DA</text><line x1="794" y1="363.3" x2="825.5" y2="363.3" stroke="#00ff00" stroke-width="7.5"/><text x="847.03" y="386.3" font-size="63" textLength="87.97" lengthAdjust="spacingAndGlyphs">UA</text><text transform="translate(106,0) rotate(-90)" x="-632.52" y="0" font-size="72" font-weight="bold" textLength="116.88" lengthAdjust="spacingAndGlyphs">g<tspan font-weight="normal">(</tspan>r<tspan font-weight="normal">)</tspan></text><text x="536.97" y="1113" font-size="71" font-weight="bold" textLength="196.81" lengthAdjust="spacingAndGlyphs">r <tspan font-weight="normal">(</tspan>nm<tspan font-weight="normal">)</tspan></text></g>
<g transform="translate(0,2422.5)"><clipPath id="ccc"><rect x="1389.5" y="167" width="695.3" height="811.5"/></clipPath><g clip-path="url(#ccc)"><path d="M1435 978.5 L1435.4 976.54 L1435.8 974.58 L1436.2 972.62 L1436.6 970.66 L1436.99 968.7 L1437.39 966.74 L1437.78 964.78 L1438.17 962.81 L1438.56 960.85 L1438.96 958.89 L1439.36 956.93 L1439.76 954.97 L1440.17 953.02 L1440.59 951.06 L1441.02 949.11 L1441.45 947.15 L1441.88 945.2 L1442.33 943.25 L1442.79 941.31 L1443.27 939.37 L1443.77 937.43 L1444.3 935.51 L1444.86 933.59 L1445.47 931.69 L1446.12 929.81 L1446.82 927.94 L1447.57 926.1 L1448.36 924.27 L1449.2 922.46 L1450.07 920.66 L1450.97 918.88 L1451.91 917.11 L1452.86 915.36 L1453.83 913.61 L1454.8 911.86 L1455.79 910.12 L1456.79 908.39 L1457.79 906.66 L1458.8 904.94 L1459.82 903.22 L1460.85 901.5 L1461.87 899.79 L1462.89 898.07 L1463.89 896.34 L1464.87 894.6 L1465.8 892.84 L1466.68 891.06 L1467.51 889.25 L1468.28 887.42 L1469 885.56 L1469.66 883.68 L1470.27 881.78 L1470.83 879.87 L1471.35 877.95 L1471.84 876.01 L1472.3 874.07 L1472.74 872.12 L1473.16 870.16 L1473.56 868.2 L1473.95 866.24 L1474.33 864.28 L1474.7 862.31 L1475.06 860.34 L1475.42 858.38 L1475.77 856.41 L1476.12 854.44 L1476.47 852.47 L1476.82 850.5 L1477.16 848.53 L1477.51 846.56 L1477.86 844.59 L1478.21 842.62 L1478.55 840.65 L1478.9 838.68 L1479.25 836.71 L1479.59 834.74 L1479.93 832.77 L1480.27 830.79 L1480.6 828.82 L1480.93 826.85 L1481.26 824.88 L1481.59 822.9 L1481.91 820.93 L1482.23 818.95 L1482.55 816.98 L1482.87 815.01 L1483.2 813.03 L1483.52 811.06 L1483.84 809.08 L1484.17 807.11 L1484.5 805.14 L1484.84 803.17 L1485.18 801.2 L1485.53 799.23 L1485.89 797.26 L1486.26 795.29 L1486.64 793.33 L1487.02 791.37 L1487.42 789.41 L1487.82 787.45 L1488.23 785.49 L1488.64 783.53 L1489.04 781.57 L1489.45 779.61 L1489.84 777.65 L1490.23 775.69 L1490.6 773.73 L1490.96 771.76 L1491.3 769.79 L1491.63 767.82 L1491.94 765.84 L1492.24 763.86 L1492.52 761.88 L1492.8 759.9 L1493.06 757.92 L1493.32 755.94 L1493.57 753.95 L1493.82 751.97 L1494.07 749.98 L1494.31 748 L1494.56 746.01 L1494.81 744.03 L1495.06 742.04 L1495.31 740.06 L1495.57 738.08 L1495.83 736.09 L1496.1 734.11 L1496.38 732.13 L1496.67 730.15 L1496.97 728.18 L1497.28 726.2 L1497.6 724.22 L1497.92 722.25 L1498.26 720.28 L1498.6 718.31 L1498.95 716.34 L1499.3 714.37 L1499.66 712.4 L1500.03 710.44 L1500.4 708.47 L1500.78 706.51 L1501.16 704.54 L1501.55 702.58 L1501.95 700.62 L1502.35 698.66 L1502.76 696.7 L1503.17 694.75 L1503.59 692.79 L1504.01 690.84 L1504.44 688.88 L1504.88 686.93 L1505.32 684.98 L1505.77 683.03 L1506.23 681.08 L1506.69 679.14 L1507.17 677.2 L1507.65 675.26 L1508.14 673.32 L1508.64 671.38 L1509.15 669.44 L1509.66 667.51 L1510.18 665.58 L1510.71 663.65 L1511.23 661.72 L1511.76 659.79 L1512.29 657.86 L1512.83 655.93 L1513.36 654.01 L1513.89 652.08 L1514.42 650.15 L1514.95 648.22 L1515.47 646.29 L1515.98 644.35 L1516.48 642.42 L1516.97 640.48 L1517.45 638.54 L1517.92 636.6 L1518.37 634.65 L1518.81 632.7 L1519.23 630.74 L1519.63 628.78 L1520.03 626.82 L1520.42 624.86 L1520.81 622.9 L1521.21 620.94 L1521.61 618.98 L1522.04 617.03 L1522.48 615.08 L1522.96 613.14 L1523.46 611.21 L1524.01 609.29 L1524.59 607.38 L1525.21 605.48 L1525.87 603.6 L1526.56 601.73 L1527.28 599.86 L1528.03 598.01 L1528.79 596.16 L1529.57 594.32 L1530.36 592.48 L1531.14 590.64 L1531.92 588.8 L1532.68 586.95 L1533.43 585.1 L1534.16 583.24 L1534.87 581.37 L1535.54 579.49 L1536.2 577.6 L1536.82 575.7 L1537.43 573.8 L1538.01 571.89 L1538.57 569.97 L1539.12 568.04 L1539.65 566.12 L1540.17 564.19 L1540.68 562.25 L1541.19 560.32 L1541.69 558.38 L1542.19 556.45 L1542.69 554.51 L1543.19 552.57 L1543.7 550.64 L1544.21 548.7 L1544.73 546.77 L1545.25 544.84 L1545.79 542.92 L1546.34 540.99 L1546.91 539.08 L1547.49 537.16 L1548.08 535.25 L1548.68 533.34 L1549.3 531.44 L1549.93 529.54 L1550.57 527.65 L1551.22 525.76 L1551.88 523.87 L1552.56 521.99 L1553.25 520.11 L1553.95 518.24 L1554.67 516.37 L1555.4 514.51 L1556.14 512.65 L1556.89 510.8 L1557.65 508.95 L1558.42 507.1 L1559.19 505.26 L1559.98 503.42 L1560.78 501.59 L1561.58 499.76 L1562.4 497.93 L1563.22 496.11 L1564.06 494.29 L1564.91 492.48 L1565.77 490.68 L1566.65 488.88 L1567.55 487.1 L1568.47 485.33 L1569.42 483.56 L1570.39 481.82 L1571.38 480.08 L1572.41 478.37 L1573.46 476.67 L1574.54 475 L1575.66 473.34 L1576.8 471.7 L1577.97 470.08 L1579.16 468.48 L1580.37 466.89 L1581.6 465.31 L1582.85 463.75 L1584.1 462.19 L1585.36 460.64 L1586.63 459.09 L1587.89 457.54 L1589.16 455.99 L1590.42 454.44 L1591.69 452.89 L1592.95 451.34 L1594.21 449.79 L1595.48 448.24 L1596.75 446.69 L1598.02 445.15 L1599.3 443.62 L1600.6 442.09 L1601.9 440.57 L1603.2 439.06 L1604.52 437.56 L1605.85 436.06 L1607.19 434.58 L1608.55 433.12 L1609.93 431.67 L1611.33 430.24 L1612.75 428.84 L1614.2 427.46 L1615.67 426.12 L1617.16 424.79 L1618.68 423.5 L1620.22 422.22 L1621.78 420.97 L1623.36 419.74 L1624.94 418.53 L1626.54 417.33 L1628.16 416.15 L1629.78 414.98 L1631.41 413.83 L1633.06 412.69 L1634.71 411.57 L1636.38 410.47 L1638.06 409.39 L1639.75 408.32 L1641.46 407.28 L1643.17 406.25 L1644.9 405.25 L1646.64 404.26 L1648.4 403.3 L1650.16 402.37 L1651.94 401.45 L1653.73 400.57 L1655.53 399.71 L1657.35 398.88 L1659.18 398.09 L1661.03 397.33 L1662.89 396.6 L1664.76 395.91 L1666.64 395.24 L1668.53 394.6 L1670.43 393.98 L1672.33 393.35 L1674.23 392.73 L1676.12 392.09 L1678.01 391.43 L1679.88 390.74 L1681.75 390.03 L1683.6 389.28 L1685.44 388.51 L1687.27 387.71 L1689.1 386.88 L1690.91 386.05 L1692.72 385.2 L1694.53 384.35 L1696.34 383.5 L1698.15 382.65 L1699.97 381.82 L1701.79 380.99 L1703.62 380.17 L1705.45 379.36 L1707.28 378.56 L1709.12 377.78 L1710.96 376.99 L1712.8 376.22 L1714.65 375.44 L1716.49 374.67 L1718.33 373.89 L1720.18 373.11 L1722.01 372.33 L1723.85 371.53 L1725.68 370.73 L1727.5 369.91 L1729.32 369.07 L1731.13 368.22 L1732.92 367.34 L1734.72 366.45 L1736.5 365.55 L1738.28 364.64 L1740.06 363.73 L1741.84 362.83 L1743.63 361.94 L1745.43 361.08 L1747.25 360.25 L1749.08 359.46 L1750.93 358.7 L1752.79 357.99 L1754.67 357.32 L1756.56 356.69 L1758.47 356.1 L1760.39 355.54 L1762.31 355.02 L1764.25 354.52 L1766.19 354.05 L1768.14 353.59 L1770.09 353.16 L1772.04 352.73 L1774 352.32 L1775.96 351.92 L1777.92 351.52 L1779.88 351.13 L1781.84 350.75 L1783.81 350.37 L1785.77 349.99 L1787.74 349.63 L1789.71 349.26 L1791.67 348.91 L1793.64 348.56 L1795.61 348.21 L1797.59 347.88 L1799.56 347.55 L1801.53 347.22 L1803.51 346.91 L1805.48 346.61 L1807.46 346.32 L1809.44 346.03 L1811.42 345.76 L1813.41 345.5 L1815.39 345.26 L1817.38 345.03 L1819.37 344.81 L1821.36 344.61 L1823.35 344.43 L1825.34 344.26 L1827.33 344.1 L1829.33 343.96 L1831.32 343.82 L1833.32 343.69 L1835.32 343.58 L1837.31 343.46 L1839.31 343.35 L1841.31 343.24 L1843.3 343.13 L1845.3 343.02 L1847.3 342.91 L1849.3 342.79 L1851.29 342.67 L1853.29 342.54 L1855.28 342.4 L1857.28 342.27 L1859.27 342.12 L1861.27 341.97 L1863.26 341.82 L1865.26 341.67 L1867.25 341.51 L1869.25 341.35 L1871.24 341.19 L1873.23 341.03 L1875.23 340.87 L1877.22 340.71 L1879.21 340.55 L1881.21 340.39 L1883.2 340.23 L1885.2 340.07 L1887.19 339.92 L1889.19 339.77 L1891.18 339.62 L1893.18 339.47 L1895.17 339.33 L1897.17 339.19 L1899.16 339.06 L1901.16 338.93 L1903.15 338.8 L1905.15 338.68 L1907.15 338.57 L1909.14 338.46 L1911.14 338.36 L1913.14 338.27 L1915.14 338.18 L1917.14 338.1 L1919.14 338.02 L1921.13 337.95 L1923.13 337.88 L1925.13 337.82 L1927.13 337.76 L1929.13 337.7 L1931.13 337.64 L1933.13 337.59 L1935.13 337.53 L1937.13 337.48 L1939.13 337.42 L1941.13 337.37 L1943.13 337.31 L1945.13 337.24 L1947.13 337.18 L1949.13 337.11 L1951.12 337.04 L1953.12 336.96 L1955.12 336.88 L1957.12 336.79 L1959.12 336.69 L1961.12 336.59 L1963.11 336.48 L1965.11 336.36 L1967.11 336.24 L1969.1 336.11 L1971.1 335.98 L1973.09 335.84 L1975.09 335.7 L1977.08 335.55 L1979.08 335.4 L1981.07 335.25 L1983.07 335.1 L1985.06 334.95 L1987.06 334.81 L1989.05 334.66 L1991.05 334.52 L1993.04 334.38 L1995.04 334.24 L1997.03 334.11 L1999.03 333.99 L2001.03 333.87 L2003.02 333.76 L2005.02 333.65 L2007.02 333.55 L2009.02 333.45 L2011.01 333.36 L2013.01 333.27 L2015.01 333.19 L2017.01 333.12 L2019.01 333.05 L2021.01 332.98 L2023.01 332.92 L2025.01 332.85 L2027.01 332.8 L2029.01 332.74 L2031.01 332.68 L2033 332.63 L2035 332.58 L2037 332.53 L2039 332.48 L2041 332.43 L2043 332.38 L2045 332.34 L2047 332.29 L2049 332.25 L2051 332.2 L2053 332.16 L2055 332.12 L2057 332.08 L2059 332.03 L2061 331.99 L2063 331.95 L2065 331.91 L2067 331.87 L2069 331.83 L2071 331.79 L2073 331.75 L2075 331.71 L2077 331.67 L2079 331.63 L2081 331.59 L2083 331.54 L2085 331.5" fill="none" stroke="#000000" stroke-width="7.5" stroke-linejoin="round" stroke-linecap="round"/><path d="M1433 978.5 L1434.05 976.81 L1435.08 975.11 L1436.07 973.38 L1437 971.63 L1437.86 969.85 L1438.67 968.03 L1439.43 966.19 L1440.16 964.33 L1440.86 962.47 L1441.57 960.6 L1442.31 958.75 L1443.09 956.93 L1443.94 955.15 L1444.87 953.42 L1445.9 951.75 L1447.03 950.16 L1448.27 948.65 L1449.6 947.24 L1451.04 945.9 L1452.54 944.63 L1454.1 943.42 L1455.69 942.23 L1457.29 941.06 L1458.86 939.86 L1460.39 938.62 L1461.85 937.31 L1463.21 935.92 L1464.47 934.45 L1465.61 932.88 L1466.62 931.23 L1467.52 929.5 L1468.32 927.71 L1469.02 925.87 L1469.66 923.99 L1470.25 922.09 L1470.81 920.17 L1471.36 918.25 L1471.91 916.33 L1472.47 914.4 L1473.04 912.49 L1473.63 910.57 L1474.23 908.66 L1474.84 906.75 L1475.46 904.85 L1476.08 902.94 L1476.71 901.04 L1477.35 899.14 L1478 897.25 L1478.66 895.36 L1479.34 893.48 L1480.05 891.61 L1480.78 889.75 L1481.55 887.9 L1482.36 886.08 L1483.22 884.28 L1484.14 882.51 L1485.1 880.76 L1486.1 879.04 L1487.15 877.34 L1488.22 875.66 L1489.3 873.98 L1490.36 872.29 L1491.4 870.59 L1492.38 868.86 L1493.3 867.11 L1494.15 865.32 L1494.91 863.49 L1495.59 861.63 L1496.19 859.74 L1496.71 857.82 L1497.16 855.89 L1497.56 853.93 L1497.9 851.96 L1498.21 849.99 L1498.49 848.01 L1498.75 846.02 L1499 844.04 L1499.25 842.05 L1499.5 840.06 L1499.77 838.08 L1500.05 836.1 L1500.38 834.13 L1500.75 832.17 L1501.18 830.24 L1501.68 828.32 L1502.27 826.44 L1502.96 824.6 L1503.76 822.81 L1504.66 821.07 L1505.67 819.38 L1506.78 817.76 L1507.97 816.18 L1509.23 814.65 L1510.54 813.15 L1511.89 811.69 L1513.27 810.24 L1514.67 808.82 L1516.09 807.4 L1517.51 806 L1518.93 804.59 L1520.34 803.17 L1521.74 801.74 L1523.1 800.28 L1524.44 798.8 L1525.75 797.29 L1527.02 795.74 L1528.25 794.18 L1529.46 792.58 L1530.62 790.96 L1531.75 789.31 L1532.85 787.64 L1533.9 785.94 L1534.9 784.22 L1535.86 782.47 L1536.77 780.69 L1537.62 778.89 L1538.41 777.06 L1539.16 775.21 L1539.85 773.34 L1540.49 771.45 L1541.09 769.54 L1541.64 767.62 L1542.16 765.69 L1542.65 763.75 L1543.12 761.81 L1543.57 759.85 L1544.01 757.9 L1544.43 755.94 L1544.85 753.98 L1545.27 752.03 L1545.7 750.07 L1546.12 748.11 L1546.56 746.15 L1547 744.2 L1547.46 742.25 L1547.92 740.3 L1548.4 738.36 L1548.89 736.41 L1549.38 734.47 L1549.89 732.53 L1550.39 730.6 L1550.91 728.66 L1551.43 726.73 L1551.95 724.79 L1552.47 722.86 L1552.99 720.92 L1553.52 718.99 L1554.04 717.06 L1554.57 715.12 L1555.09 713.19 L1555.62 711.26 L1556.14 709.32 L1556.66 707.39 L1557.17 705.45 L1557.69 703.52 L1558.2 701.58 L1558.71 699.64 L1559.21 697.7 L1559.72 695.76 L1560.22 693.82 L1560.71 691.88 L1561.21 689.94 L1561.7 688 L1562.19 686.06 L1562.68 684.11 L1563.17 682.17 L1563.66 680.23 L1564.14 678.29 L1564.63 676.34 L1565.11 674.4 L1565.6 672.45 L1566.08 670.51 L1566.56 668.57 L1567.05 666.62 L1567.53 664.68 L1568.01 662.73 L1568.49 660.79 L1568.98 658.84 L1569.46 656.9 L1569.94 654.95 L1570.42 653.01 L1570.91 651.07 L1571.39 649.12 L1571.88 647.18 L1572.36 645.23 L1572.85 643.29 L1573.33 641.35 L1573.82 639.4 L1574.31 637.46 L1574.79 635.52 L1575.28 633.57 L1575.76 631.63 L1576.25 629.69 L1576.73 627.74 L1577.22 625.8 L1577.71 623.86 L1578.21 621.92 L1578.73 619.98 L1579.25 618.05 L1579.79 616.12 L1580.35 614.2 L1580.93 612.28 L1581.52 610.37 L1582.14 608.46 L1582.77 606.57 L1583.43 604.68 L1584.11 602.79 L1584.82 600.92 L1585.56 599.07 L1586.33 597.23 L1587.16 595.42 L1588.04 593.64 L1588.99 591.91 L1590.01 590.22 L1591.1 588.58 L1592.26 586.99 L1593.46 585.44 L1594.69 583.9 L1595.92 582.36 L1597.11 580.79 L1598.24 579.18 L1599.31 577.53 L1600.3 575.82 L1601.23 574.07 L1602.09 572.28 L1602.91 570.46 L1603.69 568.62 L1604.44 566.77 L1605.17 564.91 L1605.88 563.04 L1606.58 561.16 L1607.28 559.28 L1607.97 557.4 L1608.66 555.52 L1609.34 553.64 L1610.03 551.75 L1610.71 549.87 L1611.4 547.99 L1612.1 546.11 L1612.79 544.23 L1613.49 542.36 L1614.19 540.48 L1614.9 538.6 L1615.61 536.73 L1616.32 534.86 L1617.03 532.98 L1617.74 531.11 L1618.45 529.24 L1619.16 527.36 L1619.86 525.49 L1620.57 523.62 L1621.28 521.74 L1621.99 519.87 L1622.69 517.99 L1623.4 516.12 L1624.1 514.24 L1624.8 512.36 L1625.5 510.49 L1626.2 508.61 L1626.89 506.73 L1627.57 504.84 L1628.25 502.96 L1628.92 501.07 L1629.59 499.18 L1630.25 497.29 L1630.91 495.4 L1631.57 493.51 L1632.23 491.62 L1632.9 489.73 L1633.57 487.85 L1634.26 485.96 L1634.96 484.09 L1635.67 482.22 L1636.4 480.35 L1637.15 478.49 L1637.91 476.64 L1638.7 474.8 L1639.49 472.96 L1640.31 471.13 L1641.13 469.31 L1641.97 467.49 L1642.82 465.68 L1643.68 463.87 L1644.55 462.06 L1645.43 460.26 L1646.32 458.47 L1647.22 456.68 L1648.13 454.89 L1649.04 453.11 L1649.97 451.33 L1650.9 449.56 L1651.85 447.8 L1652.81 446.04 L1653.79 444.29 L1654.78 442.55 L1655.79 440.82 L1656.82 439.11 L1657.87 437.41 L1658.95 435.72 L1660.06 434.06 L1661.2 432.42 L1662.37 430.8 L1663.58 429.21 L1664.82 427.64 L1666.09 426.1 L1667.4 424.58 L1668.73 423.09 L1670.08 421.62 L1671.46 420.17 L1672.86 418.74 L1674.28 417.33 L1675.71 415.92 L1677.14 414.53 L1678.58 413.13 L1680.02 411.74 L1681.45 410.34 L1682.88 408.93 L1684.29 407.51 L1685.68 406.07 L1687.06 404.62 L1688.42 403.15 L1689.76 401.67 L1691.08 400.17 L1692.39 398.65 L1693.68 397.12 L1694.96 395.57 L1696.22 394.02 L1697.49 392.47 L1698.74 390.91 L1700 389.35 L1701.27 387.8 L1702.54 386.25 L1703.82 384.71 L1705.11 383.18 L1706.42 381.67 L1707.75 380.17 L1709.1 378.7 L1710.47 377.24 L1711.87 375.8 L1713.28 374.38 L1714.71 372.99 L1716.17 371.61 L1717.64 370.26 L1719.14 368.94 L1720.66 367.64 L1722.2 366.37 L1723.77 365.13 L1725.37 363.93 L1726.99 362.76 L1728.64 361.63 L1730.31 360.55 L1732.02 359.51 L1733.75 358.51 L1735.5 357.56 L1737.28 356.65 L1739.08 355.78 L1740.89 354.93 L1742.72 354.12 L1744.55 353.32 L1746.39 352.53 L1748.24 351.75 L1750.08 350.97 L1751.93 350.19 L1753.78 349.42 L1755.62 348.64 L1757.47 347.86 L1759.32 347.08 L1761.17 346.31 L1763.02 345.55 L1764.87 344.79 L1766.73 344.05 L1768.59 343.31 L1770.46 342.59 L1772.33 341.88 L1774.21 341.17 L1776.09 340.48 L1777.97 339.8 L1779.86 339.12 L1781.74 338.45 L1783.63 337.78 L1785.52 337.12 L1787.42 336.47 L1789.32 335.83 L1791.22 335.22 L1793.13 334.62 L1795.05 334.04 L1796.97 333.5 L1798.91 332.99 L1800.85 332.51 L1802.8 332.07 L1804.76 331.66 L1806.72 331.29 L1808.69 330.96 L1810.67 330.65 L1812.65 330.38 L1814.64 330.14 L1816.63 329.93 L1818.62 329.74 L1820.62 329.58 L1822.61 329.43 L1824.61 329.29 L1826.61 329.17 L1828.61 329.07 L1830.61 328.97 L1832.61 328.88 L1834.62 328.8 L1836.62 328.73 L1838.62 328.66 L1840.62 328.59 L1842.62 328.53 L1844.63 328.46 L1846.63 328.4 L1848.63 328.33 L1850.63 328.27 L1852.64 328.2 L1854.64 328.13 L1856.64 328.05 L1858.64 327.98 L1860.64 327.9 L1862.65 327.83 L1864.65 327.75 L1866.65 327.68 L1868.65 327.61 L1870.65 327.54 L1872.66 327.48 L1874.66 327.43 L1876.66 327.38 L1878.66 327.33 L1880.67 327.29 L1882.67 327.25 L1884.67 327.21 L1886.68 327.18 L1888.68 327.15 L1890.68 327.12 L1892.69 327.09 L1894.69 327.06 L1896.69 327.04 L1898.69 327.01 L1900.7 326.99 L1902.7 326.96 L1904.7 326.94 L1906.71 326.92 L1908.71 326.89 L1910.71 326.87 L1912.72 326.85 L1914.72 326.83 L1916.72 326.81 L1918.73 326.79 L1920.73 326.77 L1922.73 326.75 L1924.74 326.73 L1926.74 326.71 L1928.74 326.69 L1930.75 326.68 L1932.75 326.66 L1934.75 326.64 L1936.76 326.62 L1938.76 326.61 L1940.76 326.59 L1942.77 326.57 L1944.77 326.55 L1946.77 326.54 L1948.78 326.52 L1950.78 326.5 L1952.78 326.49 L1954.79 326.47 L1956.79 326.46 L1958.79 326.44 L1960.8 326.42 L1962.8 326.41 L1964.8 326.39 L1966.81 326.38 L1968.81 326.36 L1970.81 326.34 L1972.82 326.33 L1974.82 326.31 L1976.82 326.3 L1978.83 326.28 L1980.83 326.27 L1982.83 326.25 L1984.84 326.24 L1986.84 326.22 L1988.84 326.21 L1990.85 326.19 L1992.85 326.18 L1994.85 326.16 L1996.85 326.15 L1998.86 326.13 L2000.86 326.12 L2002.86 326.1 L2004.87 326.09 L2006.87 326.07 L2008.87 326.06 L2010.88 326.04 L2012.88 326.03 L2014.88 326.01 L2016.89 326 L2018.89 325.98 L2020.89 325.97 L2022.9 325.95 L2024.9 325.94 L2026.9 325.92 L2028.91 325.91 L2030.91 325.9 L2032.91 325.88 L2034.92 325.87 L2036.92 325.85 L2038.92 325.84 L2040.93 325.82 L2042.93 325.81 L2044.93 325.79 L2046.94 325.78 L2048.94 325.77 L2050.94 325.75 L2052.95 325.74 L2054.95 325.72 L2056.95 325.71 L2058.96 325.69 L2060.96 325.68 L2062.96 325.66 L2064.97 325.65 L2066.97 325.63 L2068.97 325.62 L2070.98 325.61 L2072.98 325.59 L2074.98 325.58 L2076.99 325.56 L2078.99 325.55 L2080.99 325.53 L2083 325.52 L2085 325.5" fill="none" stroke="#ff0000" stroke-width="7.5" stroke-linejoin="round" stroke-linecap="round"/><path d="M1441 978.5 L1442.73 977.53 L1444.43 976.53 L1446.11 975.48 L1447.74 974.37 L1449.32 973.19 L1450.85 971.94 L1452.34 970.62 L1453.78 969.25 L1455.19 967.84 L1456.58 966.4 L1457.94 964.94 L1459.29 963.46 L1460.62 961.97 L1461.95 960.47 L1463.27 958.96 L1464.58 957.45 L1465.89 955.94 L1467.19 954.42 L1468.49 952.9 L1469.79 951.37 L1471.08 949.84 L1472.36 948.3 L1473.63 946.76 L1474.89 945.2 L1476.14 943.64 L1477.37 942.06 L1478.59 940.47 L1479.79 938.87 L1480.97 937.25 L1482.13 935.63 L1483.28 933.98 L1484.4 932.33 L1485.51 930.66 L1486.6 928.99 L1487.68 927.3 L1488.74 925.6 L1489.79 923.9 L1490.83 922.19 L1491.86 920.47 L1492.88 918.75 L1493.89 917.02 L1494.9 915.29 L1495.9 913.56 L1496.89 911.82 L1497.88 910.08 L1498.86 908.33 L1499.84 906.59 L1500.82 904.84 L1501.8 903.09 L1502.78 901.35 L1503.76 899.6 L1504.73 897.85 L1505.7 896.1 L1506.67 894.35 L1507.63 892.59 L1508.59 890.83 L1509.53 889.07 L1510.47 887.3 L1511.4 885.53 L1512.32 883.75 L1513.22 881.96 L1514.11 880.17 L1514.99 878.37 L1515.86 876.56 L1516.7 874.75 L1517.54 872.93 L1518.36 871.11 L1519.16 869.27 L1519.95 867.43 L1520.73 865.59 L1521.49 863.74 L1522.25 861.88 L1522.99 860.03 L1523.72 858.16 L1524.45 856.3 L1525.16 854.43 L1525.87 852.55 L1526.57 850.68 L1527.27 848.8 L1527.96 846.92 L1528.65 845.04 L1529.33 843.16 L1530.01 841.28 L1530.69 839.39 L1531.36 837.51 L1532.03 835.62 L1532.7 833.73 L1533.37 831.85 L1534.04 829.96 L1534.7 828.07 L1535.37 826.18 L1536.03 824.29 L1536.69 822.4 L1537.35 820.51 L1538.01 818.62 L1538.66 816.73 L1539.31 814.83 L1539.95 812.94 L1540.59 811.04 L1541.23 809.14 L1541.86 807.24 L1542.48 805.34 L1543.1 803.43 L1543.72 801.53 L1544.33 799.62 L1544.95 797.72 L1545.56 795.81 L1546.18 793.91 L1546.8 792 L1547.42 790.1 L1548.05 788.2 L1548.68 786.3 L1549.32 784.4 L1549.97 782.51 L1550.62 780.62 L1551.28 778.73 L1551.95 776.84 L1552.63 774.96 L1553.31 773.07 L1554 771.19 L1554.7 769.32 L1555.4 767.44 L1556.1 765.57 L1556.81 763.69 L1557.52 761.82 L1558.24 759.95 L1558.96 758.09 L1559.69 756.22 L1560.42 754.36 L1561.16 752.5 L1561.9 750.64 L1562.65 748.78 L1563.4 746.93 L1564.17 745.07 L1564.94 743.23 L1565.71 741.38 L1566.5 739.54 L1567.3 737.7 L1568.11 735.87 L1568.93 734.05 L1569.76 732.23 L1570.61 730.42 L1571.48 728.61 L1572.36 726.81 L1573.26 725.03 L1574.17 723.25 L1575.1 721.47 L1576.04 719.71 L1576.99 717.94 L1577.95 716.19 L1578.91 714.43 L1579.87 712.68 L1580.83 710.92 L1581.79 709.16 L1582.74 707.4 L1583.68 705.63 L1584.6 703.86 L1585.51 702.07 L1586.4 700.28 L1587.27 698.48 L1588.12 696.67 L1588.95 694.85 L1589.75 693.01 L1590.54 691.17 L1591.31 689.33 L1592.06 687.47 L1592.79 685.61 L1593.51 683.74 L1594.22 681.87 L1594.92 679.99 L1595.61 678.11 L1596.29 676.23 L1596.96 674.34 L1597.63 672.46 L1598.3 670.57 L1598.96 668.68 L1599.62 666.79 L1600.29 664.9 L1600.95 663.01 L1601.62 661.13 L1602.29 659.24 L1602.96 657.35 L1603.63 655.46 L1604.3 653.58 L1604.96 651.69 L1605.63 649.8 L1606.3 647.91 L1606.96 646.02 L1607.62 644.14 L1608.28 642.25 L1608.94 640.36 L1609.61 638.47 L1610.27 636.58 L1610.93 634.69 L1611.59 632.8 L1612.26 630.91 L1612.93 629.02 L1613.6 627.14 L1614.28 625.25 L1614.97 623.37 L1615.65 621.49 L1616.34 619.61 L1617.04 617.73 L1617.74 615.86 L1618.45 613.99 L1619.16 612.11 L1619.87 610.24 L1620.59 608.38 L1621.31 606.51 L1622.04 604.64 L1622.77 602.78 L1623.51 600.92 L1624.25 599.06 L1624.99 597.2 L1625.74 595.34 L1626.5 593.49 L1627.26 591.64 L1628.03 589.79 L1628.81 587.94 L1629.59 586.1 L1630.37 584.26 L1631.17 582.42 L1631.97 580.58 L1632.78 578.75 L1633.59 576.92 L1634.41 575.09 L1635.23 573.27 L1636.06 571.45 L1636.9 569.63 L1637.74 567.82 L1638.6 566 L1639.45 564.19 L1640.32 562.39 L1641.2 560.59 L1642.08 558.79 L1642.98 557 L1643.88 555.22 L1644.79 553.44 L1645.72 551.66 L1646.66 549.89 L1647.61 548.13 L1648.57 546.38 L1649.55 544.63 L1650.54 542.89 L1651.55 541.16 L1652.56 539.43 L1653.58 537.71 L1654.62 536 L1655.66 534.29 L1656.71 532.59 L1657.76 530.88 L1658.82 529.18 L1659.88 527.48 L1660.94 525.78 L1661.99 524.08 L1663.05 522.38 L1664.11 520.68 L1665.16 518.98 L1666.22 517.28 L1667.27 515.58 L1668.33 513.87 L1669.38 512.17 L1670.44 510.47 L1671.5 508.77 L1672.56 507.07 L1673.62 505.38 L1674.69 503.69 L1675.76 501.99 L1676.84 500.31 L1677.92 498.62 L1679 496.94 L1680.09 495.26 L1681.19 493.58 L1682.29 491.91 L1683.39 490.24 L1684.5 488.57 L1685.62 486.91 L1686.73 485.25 L1687.86 483.59 L1688.98 481.93 L1690.11 480.28 L1691.24 478.63 L1692.38 476.98 L1693.52 475.34 L1694.67 473.69 L1695.82 472.06 L1696.97 470.42 L1698.13 468.79 L1699.3 467.16 L1700.47 465.53 L1701.65 463.92 L1702.83 462.3 L1704.02 460.69 L1705.22 459.09 L1706.42 457.49 L1707.62 455.89 L1708.83 454.29 L1710.03 452.69 L1711.23 451.09 L1712.43 449.48 L1713.61 447.87 L1714.78 446.24 L1715.94 444.61 L1717.08 442.97 L1718.2 441.31 L1719.31 439.64 L1720.4 437.97 L1721.48 436.28 L1722.56 434.6 L1723.65 432.92 L1724.74 431.24 L1725.85 429.58 L1726.98 427.93 L1728.14 426.3 L1729.33 424.7 L1730.54 423.11 L1731.78 421.54 L1733.05 419.99 L1734.33 418.46 L1735.63 416.94 L1736.95 415.43 L1738.28 413.93 L1739.62 412.45 L1740.97 410.97 L1742.34 409.5 L1743.71 408.05 L1745.09 406.6 L1746.48 405.16 L1747.87 403.72 L1749.28 402.3 L1750.69 400.88 L1752.11 399.47 L1753.54 398.06 L1754.97 396.67 L1756.42 395.28 L1757.86 393.89 L1759.32 392.52 L1760.78 391.15 L1762.25 389.8 L1763.73 388.44 L1765.22 387.1 L1766.71 385.77 L1768.21 384.44 L1769.72 383.13 L1771.24 381.82 L1772.76 380.53 L1774.3 379.24 L1775.84 377.97 L1777.4 376.71 L1778.96 375.46 L1780.53 374.22 L1782.12 373 L1783.71 371.79 L1785.31 370.59 L1786.92 369.4 L1788.55 368.23 L1790.18 367.07 L1791.82 365.92 L1793.47 364.79 L1795.13 363.67 L1796.8 362.57 L1798.48 361.48 L1800.17 360.41 L1801.87 359.35 L1803.58 358.31 L1805.3 357.29 L1807.03 356.28 L1808.77 355.29 L1810.52 354.32 L1812.28 353.37 L1814.05 352.44 L1815.83 351.52 L1817.62 350.63 L1819.41 349.75 L1821.22 348.89 L1823.04 348.05 L1824.87 347.24 L1826.7 346.44 L1828.54 345.65 L1830.39 344.89 L1832.25 344.14 L1834.11 343.42 L1835.99 342.72 L1837.87 342.04 L1839.76 341.4 L1841.66 340.78 L1843.58 340.2 L1845.5 339.66 L1847.43 339.15 L1849.37 338.67 L1851.32 338.22 L1853.28 337.8 L1855.24 337.4 L1857.2 337.01 L1859.17 336.65 L1861.14 336.29 L1863.11 335.95 L1865.09 335.61 L1867.06 335.29 L1869.04 334.98 L1871.02 334.67 L1873 334.37 L1874.98 334.08 L1876.96 333.81 L1878.94 333.54 L1880.93 333.28 L1882.91 333.03 L1884.9 332.79 L1886.89 332.56 L1888.88 332.34 L1890.87 332.13 L1892.86 331.93 L1894.86 331.74 L1896.85 331.56 L1898.85 331.39 L1900.84 331.23 L1902.84 331.08 L1904.83 330.94 L1906.83 330.81 L1908.83 330.69 L1910.83 330.58 L1912.83 330.47 L1914.83 330.38 L1916.83 330.29 L1918.83 330.21 L1920.83 330.14 L1922.83 330.07 L1924.83 330.01 L1926.83 329.95 L1928.84 329.9 L1930.84 329.85 L1932.84 329.81 L1934.84 329.77 L1936.84 329.74 L1938.84 329.71 L1940.85 329.68 L1942.85 329.66 L1944.85 329.63 L1946.85 329.61 L1948.85 329.6 L1950.86 329.58 L1952.86 329.57 L1954.86 329.56 L1956.86 329.55 L1958.87 329.54 L1960.87 329.53 L1962.87 329.53 L1964.87 329.52 L1966.87 329.52 L1968.88 329.52 L1970.88 329.51 L1972.88 329.51 L1974.88 329.51 L1976.89 329.51 L1978.89 329.51 L1980.89 329.51 L1982.89 329.5 L1984.89 329.51 L1986.9 329.51 L1988.9 329.51 L1990.9 329.51 L1992.9 329.52 L1994.91 329.52 L1996.91 329.53 L1998.91 329.54 L2000.91 329.55 L2002.91 329.56 L2004.92 329.57 L2006.92 329.59 L2008.92 329.6 L2010.92 329.62 L2012.93 329.64 L2014.93 329.65 L2016.93 329.67 L2018.93 329.69 L2020.93 329.71 L2022.94 329.73 L2024.94 329.75 L2026.94 329.77 L2028.94 329.8 L2030.94 329.82 L2032.95 329.84 L2034.95 329.86 L2036.95 329.89 L2038.95 329.91 L2040.95 329.94 L2042.96 329.96 L2044.96 329.99 L2046.96 330.01 L2048.96 330.04 L2050.96 330.06 L2052.97 330.09 L2054.97 330.11 L2056.97 330.14 L2058.97 330.17 L2060.98 330.19 L2062.98 330.22 L2064.98 330.25 L2066.98 330.27 L2068.98 330.3 L2070.99 330.33 L2072.99 330.35 L2074.99 330.38 L2076.99 330.4 L2078.99 330.43 L2081 330.45 L2083 330.48 L2085 330.5" fill="none" stroke="#00ff00" stroke-width="7.5" stroke-linejoin="round" stroke-linecap="round"/></g><line x1="1375.5" y1="978.5" x2="1389.5" y2="978.5" stroke="#000" stroke-width="5"/><text x="1335.38" y="1004" font-size="71" textLength="34.55" lengthAdjust="spacingAndGlyphs">0</text><line x1="1375.5" y1="708" x2="1389.5" y2="708" stroke="#000" stroke-width="5"/><text x="1336.28" y="733.5" font-size="71" textLength="36.6" lengthAdjust="spacingAndGlyphs">5</text><line x1="1375.5" y1="437.5" x2="1389.5" y2="437.5" stroke="#000" stroke-width="5"/><text x="1304.6" y="463" font-size="71" textLength="68.6" lengthAdjust="spacingAndGlyphs">10</text><line x1="1375.5" y1="167" x2="1389.5" y2="167" stroke="#000" stroke-width="5"/><text x="1308.68" y="192.5" font-size="71" textLength="62.98" lengthAdjust="spacingAndGlyphs">15</text><line x1="1389.5" y1="978.5" x2="1389.5" y2="992.5" stroke="#000" stroke-width="4.5"/><text x="1374.69" y="1049.5" font-size="67" textLength="35.35" lengthAdjust="spacingAndGlyphs">0</text><line x1="1563.33" y1="978.5" x2="1563.33" y2="992.5" stroke="#000" stroke-width="4.5"/><text x="1524.83" y="1049.5" font-size="67" textLength="82.69" lengthAdjust="spacingAndGlyphs">0.5</text><line x1="1737.15" y1="978.5" x2="1737.15" y2="992.5" stroke="#000" stroke-width="4.5"/><text x="1728.12" y="1049.5" font-size="67" textLength="27.22" lengthAdjust="spacingAndGlyphs">1</text><line x1="1910.97" y1="978.5" x2="1910.97" y2="992.5" stroke="#000" stroke-width="4.5"/><text x="1868.31" y="1049.5" font-size="67" textLength="86.43" lengthAdjust="spacingAndGlyphs">1.5</text><line x1="2084.8" y1="978.5" x2="2084.8" y2="992.5" stroke="#000" stroke-width="4.5"/><text x="2069.06" y="1049.5" font-size="67" textLength="38.46" lengthAdjust="spacingAndGlyphs">2</text><rect x="1389.5" y="167" width="695.3" height="811.5" fill="none" stroke="#000" stroke-width="7"/><rect x="2119.3" y="224.4" width="162.3" height="173.8" fill="#fff" stroke="#000" stroke-width="6"/><line x1="2129" y1="258" x2="2163" y2="258" stroke="#000000" stroke-width="7.5"/><text x="2184.4" y="281" font-size="63" textLength="87" lengthAdjust="spacingAndGlyphs">AA</text><line x1="2129" y1="310.9" x2="2163" y2="310.9" stroke="#ff0000" stroke-width="7.5"/><text x="2182.44" y="333.9" font-size="63" textLength="88.96" lengthAdjust="spacingAndGlyphs">DA</text><line x1="2129" y1="363.8" x2="2163" y2="363.8" stroke="#00ff00" stroke-width="7.5"/><text x="2183.43" y="386.8" font-size="63" textLength="87.97" lengthAdjust="spacingAndGlyphs">UA</text><text transform="translate(1291,0) rotate(-90)" x="-910.5" y="0" font-size="72" font-weight="bold" textLength="673.79" lengthAdjust="spacingAndGlyphs">Coordination number</text><text x="1641.47" y="1113" font-size="71" font-weight="bold" textLength="196.81" lengthAdjust="spacingAndGlyphs">r <tspan font-weight="normal">(</tspan>nm<tspan font-weight="normal">)</tspan></text></g>
</svg></body></html>
